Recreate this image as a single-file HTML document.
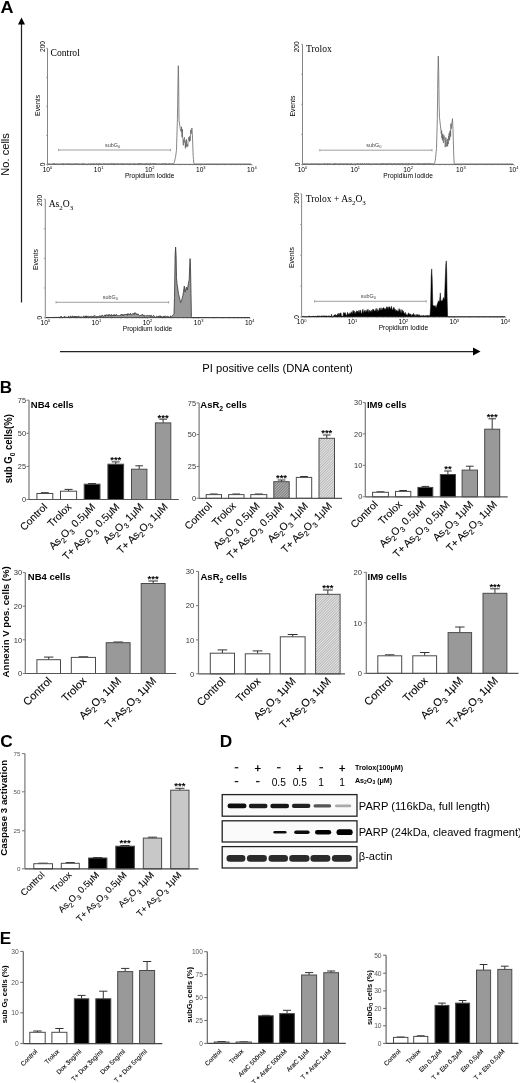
<!DOCTYPE html>
<html><head><meta charset="utf-8"><style>
html,body{margin:0;padding:0;background:#fff;}
svg{display:block;font-family:"Liberation Sans",sans-serif;}
</style></head><body>
<svg width="520" height="1083" viewBox="0 0 520 1083" font-family="Liberation Sans, sans-serif">
<rect width="520" height="1083" fill="#fff"/>
<filter id="soft" x="0" y="0" width="100%" height="100%"><feGaussianBlur stdDeviation="0.35"/></filter>
<g filter="url(#soft)">
<text transform="translate(0.6,12.9) scale(1.1,1)" font-size="16.4" font-weight="bold">A</text>
<line x1="21.5" y1="23" x2="21.5" y2="302.5" stroke="#222" stroke-width="1.2"/>
<polygon points="21.5,17.5 18,24.5 25,24.5" fill="#000"/>
<text x="9.5" y="154.4" font-size="11.1" text-anchor="middle" transform="rotate(-90 9.5 154.4)">No. cells</text>
<line x1="60" y1="351.6" x2="474" y2="351.6" stroke="#222" stroke-width="1.2"/>
<polygon points="480.5,351.6 473,347.6 473,355.6" fill="#000"/>
<text x="277.5" y="371.6" font-size="11.2" text-anchor="middle">PI positive cells (DNA content)</text>
<line x1="47.5" y1="48.3" x2="47.5" y2="164.4" stroke="#666" stroke-width="0.8"/>
<line x1="47.5" y1="164.4" x2="252" y2="164.4" stroke="#777" stroke-width="0.8"/>
<line x1="46" y1="48.3" x2="47.5" y2="48.3" stroke="#888" stroke-width="0.7"/>
<line x1="46" y1="77.33" x2="47.5" y2="77.33" stroke="#888" stroke-width="0.7"/>
<line x1="46" y1="106.35" x2="47.5" y2="106.35" stroke="#888" stroke-width="0.7"/>
<line x1="46" y1="135.38" x2="47.5" y2="135.38" stroke="#888" stroke-width="0.7"/>
<line x1="46" y1="164.4" x2="47.5" y2="164.4" stroke="#888" stroke-width="0.7"/>
<line x1="47.5" y1="164.4" x2="47.5" y2="165.9" stroke="#888" stroke-width="0.6"/>
<line x1="62.88" y1="164.4" x2="62.88" y2="165.4" stroke="#888" stroke-width="0.6"/>
<line x1="71.88" y1="164.4" x2="71.88" y2="165.4" stroke="#888" stroke-width="0.6"/>
<line x1="78.27" y1="164.4" x2="78.27" y2="165.4" stroke="#888" stroke-width="0.6"/>
<line x1="83.22" y1="164.4" x2="83.22" y2="165.4" stroke="#888" stroke-width="0.6"/>
<line x1="87.26" y1="164.4" x2="87.26" y2="165.4" stroke="#888" stroke-width="0.6"/>
<line x1="90.68" y1="164.4" x2="90.68" y2="165.4" stroke="#888" stroke-width="0.6"/>
<line x1="93.65" y1="164.4" x2="93.65" y2="165.4" stroke="#888" stroke-width="0.6"/>
<line x1="96.26" y1="164.4" x2="96.26" y2="165.4" stroke="#888" stroke-width="0.6"/>
<line x1="98.6" y1="164.4" x2="98.6" y2="165.9" stroke="#888" stroke-width="0.6"/>
<line x1="113.98" y1="164.4" x2="113.98" y2="165.4" stroke="#888" stroke-width="0.6"/>
<line x1="122.98" y1="164.4" x2="122.98" y2="165.4" stroke="#888" stroke-width="0.6"/>
<line x1="129.37" y1="164.4" x2="129.37" y2="165.4" stroke="#888" stroke-width="0.6"/>
<line x1="134.32" y1="164.4" x2="134.32" y2="165.4" stroke="#888" stroke-width="0.6"/>
<line x1="138.36" y1="164.4" x2="138.36" y2="165.4" stroke="#888" stroke-width="0.6"/>
<line x1="141.78" y1="164.4" x2="141.78" y2="165.4" stroke="#888" stroke-width="0.6"/>
<line x1="144.75" y1="164.4" x2="144.75" y2="165.4" stroke="#888" stroke-width="0.6"/>
<line x1="147.36" y1="164.4" x2="147.36" y2="165.4" stroke="#888" stroke-width="0.6"/>
<line x1="149.7" y1="164.4" x2="149.7" y2="165.9" stroke="#888" stroke-width="0.6"/>
<line x1="165.08" y1="164.4" x2="165.08" y2="165.4" stroke="#888" stroke-width="0.6"/>
<line x1="174.08" y1="164.4" x2="174.08" y2="165.4" stroke="#888" stroke-width="0.6"/>
<line x1="180.47" y1="164.4" x2="180.47" y2="165.4" stroke="#888" stroke-width="0.6"/>
<line x1="185.42" y1="164.4" x2="185.42" y2="165.4" stroke="#888" stroke-width="0.6"/>
<line x1="189.46" y1="164.4" x2="189.46" y2="165.4" stroke="#888" stroke-width="0.6"/>
<line x1="192.88" y1="164.4" x2="192.88" y2="165.4" stroke="#888" stroke-width="0.6"/>
<line x1="195.85" y1="164.4" x2="195.85" y2="165.4" stroke="#888" stroke-width="0.6"/>
<line x1="198.46" y1="164.4" x2="198.46" y2="165.4" stroke="#888" stroke-width="0.6"/>
<line x1="200.8" y1="164.4" x2="200.8" y2="165.9" stroke="#888" stroke-width="0.6"/>
<line x1="216.18" y1="164.4" x2="216.18" y2="165.4" stroke="#888" stroke-width="0.6"/>
<line x1="225.18" y1="164.4" x2="225.18" y2="165.4" stroke="#888" stroke-width="0.6"/>
<line x1="231.57" y1="164.4" x2="231.57" y2="165.4" stroke="#888" stroke-width="0.6"/>
<line x1="236.52" y1="164.4" x2="236.52" y2="165.4" stroke="#888" stroke-width="0.6"/>
<line x1="240.56" y1="164.4" x2="240.56" y2="165.4" stroke="#888" stroke-width="0.6"/>
<line x1="243.98" y1="164.4" x2="243.98" y2="165.4" stroke="#888" stroke-width="0.6"/>
<line x1="246.95" y1="164.4" x2="246.95" y2="165.4" stroke="#888" stroke-width="0.6"/>
<line x1="249.56" y1="164.4" x2="249.56" y2="165.4" stroke="#888" stroke-width="0.6"/>
<line x1="252" y1="164.4" x2="252" y2="165.9" stroke="#888" stroke-width="0.6"/>
<text transform="translate(44.7,46.5) rotate(-90)" font-size="6.6" text-anchor="middle">200</text>
<text transform="translate(44.5,164.4) rotate(-90)" font-size="6.6" text-anchor="middle">0</text>
<text transform="translate(39.9,105.4) rotate(-90)" font-size="6.9" text-anchor="middle">Events</text>
<text x="47.5" y="171.6" font-size="6.6" text-anchor="middle">10<tspan dy="-2.4" font-size="4">0</tspan></text>
<text x="98.6" y="171.6" font-size="6.6" text-anchor="middle">10<tspan dy="-2.4" font-size="4">1</tspan></text>
<text x="149.7" y="171.6" font-size="6.6" text-anchor="middle">10<tspan dy="-2.4" font-size="4">2</tspan></text>
<text x="200.8" y="171.6" font-size="6.6" text-anchor="middle">10<tspan dy="-2.4" font-size="4">3</tspan></text>
<text x="251.9" y="171.6" font-size="6.6" text-anchor="middle">10<tspan dy="-2.4" font-size="4">4</tspan></text>
<text x="149.7" y="177.7" font-size="6.6" text-anchor="middle">Propidium Iodide</text>
<line x1="58.5" y1="150" x2="170.6" y2="150" stroke="#888" stroke-width="0.8"/>
<line x1="58.5" y1="148.8" x2="58.5" y2="151.2" stroke="#888" stroke-width="0.7"/>
<line x1="170.6" y1="148.8" x2="170.6" y2="151.2" stroke="#888" stroke-width="0.7"/>
<text x="112.55" y="146.7" font-size="5.4" text-anchor="middle" fill="#444">subG<tspan dy="1.3" font-size="4">0</tspan></text>
<path d="M48,164.4 L48,164 48.3,164.04 48.6,164.18 48.9,163.78 49.2,164.24 49.5,163.87 49.8,164 50.1,164.25 50.4,163.89 50.7,164.27 51,163.95 51.3,164.24 51.6,164.22 51.9,163.95 52.2,163.63 52.5,164.19 52.8,164.11 53.1,163.79 53.4,163.53 53.7,163.83 54,163.97 54.3,163.51 54.6,164.25 54.9,163.6 55.2,164.06 55.5,164.17 55.8,164.19 56.1,164.04 56.4,163.63 56.7,164.14 57,163.82 57.3,163.77 57.6,163.99 57.9,163.85 58.2,164.23 58.5,164.24 58.8,164.12 59.1,163.74 59.4,163.94 59.7,164.03 60,163.81 60.3,163.92 60.6,164.04 60.9,163.64 61.2,163.72 61.5,164.08 61.8,163.82 62.1,163.86 62.4,163.58 62.7,163.69 63,164.05 63.3,163.49 63.6,164.18 63.9,163.94 64.2,163.67 64.5,164.15 64.8,163.88 65.1,164.24 65.4,163.74 65.7,163.66 66,163.81 66.3,163.57 66.6,164.02 66.9,163.71 67.2,163.79 67.5,163.81 67.8,163.9 68.1,163.6 68.4,163.51 68.7,163.89 69,163.74 69.3,164.22 69.6,163.7 69.9,163.75 70.2,163.47 70.5,163.61 70.8,164.04 71.1,163.95 71.4,163.73 71.7,164.24 72,163.89 72.3,164.13 72.6,164.17 72.9,164.21 73.2,163.65 73.5,164.16 73.8,164.06 74.1,163.95 74.4,163.56 74.7,164.19 75,163.9 75.3,163.82 75.6,163.55 75.9,163.6 76.2,163.56 76.5,164.03 76.8,163.92 77.1,163.97 77.4,163.55 77.7,163.49 78,164.13 78.3,164.11 78.6,164.07 78.9,164.06 79.2,163.86 79.5,163.78 79.8,164.04 80.1,164.25 80.4,163.91 80.7,163.95 81,163.79 81.3,163.48 81.6,163.69 81.9,163.83 82.2,163.75 82.5,163.7 82.8,164.2 83.1,163.52 83.4,163.62 83.7,163.54 84,163.6 84.3,163.93 84.6,163.92 84.9,164.16 85.2,163.73 85.5,164.19 85.8,164.19 86.1,164.07 86.4,164.11 86.7,163.97 87,164.2 87.3,164.24 87.6,164.12 87.9,164.16 88.2,163.95 88.5,164.22 88.8,163.54 89.1,163.74 89.4,164.12 89.7,164.03 90,163.96 90.3,163.94 90.6,164.13 90.9,163.55 91.2,163.44 91.5,163.86 91.8,163.84 92.1,164.16 92.4,164.15 92.7,163.95 93,164.02 93.3,163.56 93.6,164.1 93.9,164.21 94.2,163.47 94.5,163.8 94.8,164.11 95.1,163.79 95.4,164.2 95.7,163.8 96,163.44 96.3,163.53 96.6,163.67 96.9,164.01 97.2,163.93 97.5,164.09 97.8,163.6 98.1,163.79 98.4,163.6 98.7,163.96 99,164.04 99.3,163.57 99.6,163.43 99.9,163.54 100.2,163.57 100.5,163.56 100.8,163.62 101.1,164.03 101.4,163.8 101.7,163.93 102,164.19 102.3,164.19 102.6,163.99 102.9,164.01 103.2,163.66 103.5,163.45 103.8,163.85 104.1,163.46 104.4,163.42 104.7,163.45 105,163.92 105.3,164.03 105.6,164.03 105.9,164.05 106.2,164.04 106.5,163.71 106.8,163.49 107.1,163.53 107.4,163.82 107.7,163.68 108,163.56 108.3,164.14 108.6,163.67 108.9,163.48 109.2,163.58 109.5,163.6 109.8,163.82 110.1,164.06 110.4,163.57 110.7,163.93 111,163.56 111.3,163.42 111.6,163.88 111.9,163.88 112.2,163.44 112.5,163.62 112.8,164.06 113.1,164.09 113.4,164.07 113.7,163.47 114,163.55 114.3,164.08 114.6,163.53 114.9,163.41 115.2,163.67 115.5,163.91 115.8,163.75 116.1,164.09 116.4,164.18 116.7,163.41 117,163.67 117.3,163.77 117.6,163.44 117.9,163.84 118.2,163.49 118.5,163.53 118.8,164.02 119.1,163.99 119.4,163.95 119.7,163.99 120,163.72 120.3,163.98 120.6,163.85 120.9,164.08 121.2,163.46 121.5,163.9 121.8,163.82 122.1,163.72 122.4,163.46 122.7,163.84 123,163.45 123.3,163.78 123.6,163.75 123.9,163.76 124.2,164.16 124.5,163.83 124.8,164.03 125.1,164.17 125.4,163.54 125.7,164.04 126,163.8 126.3,163.6 126.6,163.73 126.9,163.91 127.2,163.76 127.5,163.73 127.8,163.55 128.1,164.09 128.4,163.72 128.7,163.97 129,163.95 129.3,163.55 129.6,163.76 129.9,163.72 130.2,163.56 130.5,163.44 130.8,163.81 131.1,163.68 131.4,163.76 131.7,163.76 132,163.61 132.3,163.8 132.6,163.74 132.9,163.78 133.2,163.41 133.5,163.6 133.8,163.46 134.1,163.41 134.4,163.95 134.7,163.71 135,163.41 135.3,163.49 135.6,164.05 135.9,164.06 136.2,163.81 136.5,164.1 136.8,163.97 137.1,164.1 137.4,163.62 137.7,163.53 138,163.44 138.3,164.03 138.6,163.58 138.9,163.63 139.2,164.04 139.5,163.45 139.8,163.38 140.1,163.98 140.4,163.39 140.7,163.83 141,163.76 141.3,163.36 141.6,163.48 141.9,164.02 142.2,163.8 142.5,163.74 142.8,163.88 143.1,163.99 143.4,163.89 143.7,163.57 144,164.13 144.3,163.7 144.6,163.79 144.9,164.13 145.2,163.88 145.5,163.65 145.8,163.73 146.1,164.09 146.4,163.36 146.7,163.51 147,163.36 147.3,164.06 147.6,163.93 147.9,164.11 148.2,163.52 148.5,163.92 148.8,164.04 149.1,163.8 149.4,163.41 149.7,163.48 150,163.93 150.3,164.02 150.6,163.4 150.9,163.68 151.2,163.58 151.5,164.06 151.8,164.09 152.1,163.58 152.4,163.79 152.7,164.08 153,163.38 153.3,163.62 153.6,163.49 153.9,164.06 154.2,163.45 154.5,164.08 154.8,163.44 155.1,163.77 155.4,163.86 155.7,163.69 156,163.39 156.3,163.91 156.6,164.02 156.9,163.7 157.2,163.94 157.5,164.04 157.8,164 158.1,164.08 158.4,163.96 158.7,163.87 159,163.88 159.3,163.52 159.6,163.89 159.9,163.72 160.2,163.98 160.5,163.84 160.8,164.11 161.1,163.92 161.4,164.11 161.7,163.53 162,163.68 162.3,163.97 162.6,163.74 162.9,163.37 163.2,164.03 163.5,163.46 163.8,163.77 164.1,163.72 164.4,163.45 164.7,163.8 165,163.71 165.3,163.56 165.6,163.33 165.9,163.84 166.2,163.45 166.5,163.55 166.8,163.6 167.1,163.79 167.4,163.83 167.7,164.07 168,164 168.3,164.05 168.6,163.52 168.9,163.9 169.2,163.98 169.5,164.04 169.8,163.43 170.1,163.41 170.4,163.57 170.7,163.88 171,163.91 171.3,163.87 171.6,163.74 171.9,163.98 172.2,163.75 172.5,163.89 172.8,163.33 173.1,163.8 173.4,163.8 173.5,163.8 173.7,163.45 174,162.93 174.3,162.4 174.6,161.15 174.9,159.9 175.2,158.65 175.5,157.4 175.8,155.15 176.1,152.9 176.4,150.65 176.5,149.9 176.7,143.12 177,132.96 177.3,122.79 177.4,119.4 177.6,106.07 177.9,86.07 178,79.4 178.2,70.27 178.3,65.7 178.5,72.83 178.6,76.4 178.8,98.4 179,120.4 179.1,121.04 179.4,122.96 179.7,124.88 180,126.8 180.3,128.72 180.5,130 180.6,130.25 180.9,131 181.2,131.75 181.5,126.83 181.8,132.69 182.1,137.07 182.4,129.16 182.5,135 182.7,138.37 183,139.42 183.3,145.31 183.5,140.4 183.6,141.52 183.9,139.5 184.2,138.27 184.5,137.4 184.8,142.64 185.1,140.64 185.4,148.29 185.5,142.9 185.7,145.03 186,146.07 186.3,141.31 186.5,139.4 186.6,145.4 186.9,147.13 187.2,145.25 187.5,144.4 187.8,146.29 188.1,140.73 188.4,140.09 188.5,140 188.7,137.27 189,138.81 189.3,138.53 189.5,141.4 189.6,136.45 189.9,141.13 190.2,140.69 190.5,137.4 190.8,129.78 191.1,133.8 191.4,132 191.5,131.4 191.7,129.7 191.9,128 192,129.28 192.3,133.12 192.4,134.4 192.6,139.9 192.9,148.15 193.2,156.4 193.5,159.65 193.8,162.9 194.1,163.37 194.4,163.84 194.5,164 194.7,164 195,164 195.3,164 195.6,164 195.9,164 196.2,164 196.5,164 196.8,164 197.1,164 197.4,164 197.7,164 198,164 198.3,164 198.6,164 198.9,164 199.2,164 199.5,164 199.8,164 200.1,164 200.4,164 200.7,164 201,164 201.3,164 201.6,164 201.9,164 202.2,164 202.5,164 202.8,164 203.1,164 203.4,164 203.7,164 204,164 204.3,164 204.6,164 204.9,164 205.2,164 205.5,164 205.8,164 206.1,164 206.4,164 206.7,164 207,164 207.3,164 207.6,164 207.9,164 208.2,164 208.5,164 208.8,164 209.1,164 209.4,164 209.7,164 210,164 210.3,164 210.6,164 210.9,164 211.2,164 211.5,164 211.8,164 212.1,164 212.4,164 212.7,164 213,164 213.3,164 213.6,164 213.9,164 214.2,164 214.5,164 214.8,164 215.1,164 215.4,164 215.7,164 216,164 216.3,164 216.6,164 216.9,164 217.2,164 217.5,164 217.8,164 218.1,164 218.4,164 218.7,164 219,164 219.3,164 219.6,164 219.9,164 220.2,164 220.5,164 220.8,164 221.1,164 221.4,164 221.7,164 222,164 222.3,164 222.6,164 222.9,164 223.2,164 223.5,164 223.8,164 224.1,164 224.4,164 224.7,164 225,164 225.3,164 225.6,164 225.9,164 226.2,164 226.5,164 226.8,164 227.1,164 227.4,164 227.7,164 228,164 228.3,164 228.6,164 228.9,164 229.2,164 229.5,164 229.8,164 230.1,164 230.4,164 230.7,164 231,164 231.3,164 231.6,164 231.9,164 232.2,164 232.5,164 232.8,164 233.1,164 233.4,164 233.7,164 234,164 234.3,164 234.6,164 234.9,164 235.2,164 235.5,164 235.8,164 236.1,164 236.4,164 236.7,164 237,164 237.3,164 237.6,164 237.9,164 238.2,164 238.5,164 238.8,164 239.1,164 239.4,164 239.7,164 240,164 240.3,164 240.6,164 240.9,164 241.2,164 241.5,164 241.8,164 242.1,164 242.4,164 242.7,164 243,164 243.3,164 243.6,164 243.9,164 244.2,164 244.5,164 244.8,164 245.1,164 245.4,164 245.7,164 246,164 246.3,164 246.6,164 246.9,164 247.2,164 247.5,164 247.8,164 248.1,164 248.4,164 248.7,164 249,164 249.3,164 249.6,164 249.9,164 250.2,164 250.5,164 250.8,164 251,164 L251,164.4 Z" fill="none" stroke="#666" stroke-width="0.8" stroke-linejoin="round"/>
<text x="50.5" y="55.8" font-size="9.6" font-family="Liberation Serif">Control</text>
<line x1="302.5" y1="44.2" x2="302.5" y2="164.4" stroke="#666" stroke-width="0.8"/>
<line x1="302.5" y1="164.4" x2="514" y2="164.4" stroke="#777" stroke-width="0.8"/>
<line x1="301" y1="44.2" x2="302.5" y2="44.2" stroke="#888" stroke-width="0.7"/>
<line x1="301" y1="74.25" x2="302.5" y2="74.25" stroke="#888" stroke-width="0.7"/>
<line x1="301" y1="104.3" x2="302.5" y2="104.3" stroke="#888" stroke-width="0.7"/>
<line x1="301" y1="134.35" x2="302.5" y2="134.35" stroke="#888" stroke-width="0.7"/>
<line x1="301" y1="164.4" x2="302.5" y2="164.4" stroke="#888" stroke-width="0.7"/>
<line x1="302.5" y1="164.4" x2="302.5" y2="165.9" stroke="#888" stroke-width="0.6"/>
<line x1="318.39" y1="164.4" x2="318.39" y2="165.4" stroke="#888" stroke-width="0.6"/>
<line x1="327.69" y1="164.4" x2="327.69" y2="165.4" stroke="#888" stroke-width="0.6"/>
<line x1="334.29" y1="164.4" x2="334.29" y2="165.4" stroke="#888" stroke-width="0.6"/>
<line x1="339.41" y1="164.4" x2="339.41" y2="165.4" stroke="#888" stroke-width="0.6"/>
<line x1="343.59" y1="164.4" x2="343.59" y2="165.4" stroke="#888" stroke-width="0.6"/>
<line x1="347.12" y1="164.4" x2="347.12" y2="165.4" stroke="#888" stroke-width="0.6"/>
<line x1="350.18" y1="164.4" x2="350.18" y2="165.4" stroke="#888" stroke-width="0.6"/>
<line x1="352.88" y1="164.4" x2="352.88" y2="165.4" stroke="#888" stroke-width="0.6"/>
<line x1="355.3" y1="164.4" x2="355.3" y2="165.9" stroke="#888" stroke-width="0.6"/>
<line x1="371.19" y1="164.4" x2="371.19" y2="165.4" stroke="#888" stroke-width="0.6"/>
<line x1="380.49" y1="164.4" x2="380.49" y2="165.4" stroke="#888" stroke-width="0.6"/>
<line x1="387.09" y1="164.4" x2="387.09" y2="165.4" stroke="#888" stroke-width="0.6"/>
<line x1="392.21" y1="164.4" x2="392.21" y2="165.4" stroke="#888" stroke-width="0.6"/>
<line x1="396.39" y1="164.4" x2="396.39" y2="165.4" stroke="#888" stroke-width="0.6"/>
<line x1="399.92" y1="164.4" x2="399.92" y2="165.4" stroke="#888" stroke-width="0.6"/>
<line x1="402.98" y1="164.4" x2="402.98" y2="165.4" stroke="#888" stroke-width="0.6"/>
<line x1="405.68" y1="164.4" x2="405.68" y2="165.4" stroke="#888" stroke-width="0.6"/>
<line x1="408.1" y1="164.4" x2="408.1" y2="165.9" stroke="#888" stroke-width="0.6"/>
<line x1="423.99" y1="164.4" x2="423.99" y2="165.4" stroke="#888" stroke-width="0.6"/>
<line x1="433.29" y1="164.4" x2="433.29" y2="165.4" stroke="#888" stroke-width="0.6"/>
<line x1="439.89" y1="164.4" x2="439.89" y2="165.4" stroke="#888" stroke-width="0.6"/>
<line x1="445.01" y1="164.4" x2="445.01" y2="165.4" stroke="#888" stroke-width="0.6"/>
<line x1="449.19" y1="164.4" x2="449.19" y2="165.4" stroke="#888" stroke-width="0.6"/>
<line x1="452.72" y1="164.4" x2="452.72" y2="165.4" stroke="#888" stroke-width="0.6"/>
<line x1="455.78" y1="164.4" x2="455.78" y2="165.4" stroke="#888" stroke-width="0.6"/>
<line x1="458.48" y1="164.4" x2="458.48" y2="165.4" stroke="#888" stroke-width="0.6"/>
<line x1="460.9" y1="164.4" x2="460.9" y2="165.9" stroke="#888" stroke-width="0.6"/>
<line x1="476.79" y1="164.4" x2="476.79" y2="165.4" stroke="#888" stroke-width="0.6"/>
<line x1="486.09" y1="164.4" x2="486.09" y2="165.4" stroke="#888" stroke-width="0.6"/>
<line x1="492.69" y1="164.4" x2="492.69" y2="165.4" stroke="#888" stroke-width="0.6"/>
<line x1="497.81" y1="164.4" x2="497.81" y2="165.4" stroke="#888" stroke-width="0.6"/>
<line x1="501.99" y1="164.4" x2="501.99" y2="165.4" stroke="#888" stroke-width="0.6"/>
<line x1="505.52" y1="164.4" x2="505.52" y2="165.4" stroke="#888" stroke-width="0.6"/>
<line x1="508.58" y1="164.4" x2="508.58" y2="165.4" stroke="#888" stroke-width="0.6"/>
<line x1="511.28" y1="164.4" x2="511.28" y2="165.4" stroke="#888" stroke-width="0.6"/>
<line x1="514" y1="164.4" x2="514" y2="165.9" stroke="#888" stroke-width="0.6"/>
<text transform="translate(299.4,46.8) rotate(-90)" font-size="6.6" text-anchor="middle">200</text>
<text transform="translate(299.5,164.4) rotate(-90)" font-size="6.6" text-anchor="middle">0</text>
<text transform="translate(294.9,106) rotate(-90)" font-size="6.9" text-anchor="middle">Events</text>
<text x="302.5" y="171.6" font-size="6.6" text-anchor="middle">10<tspan dy="-2.4" font-size="4">0</tspan></text>
<text x="355.3" y="171.6" font-size="6.6" text-anchor="middle">10<tspan dy="-2.4" font-size="4">1</tspan></text>
<text x="408.1" y="171.6" font-size="6.6" text-anchor="middle">10<tspan dy="-2.4" font-size="4">2</tspan></text>
<text x="460.9" y="171.6" font-size="6.6" text-anchor="middle">10<tspan dy="-2.4" font-size="4">3</tspan></text>
<text x="513.7" y="171.6" font-size="6.6" text-anchor="middle">10<tspan dy="-2.4" font-size="4">4</tspan></text>
<text x="408.1" y="177.7" font-size="6.6" text-anchor="middle">Propidium Iodide</text>
<line x1="319.8" y1="150.2" x2="432" y2="150.2" stroke="#888" stroke-width="0.8"/>
<line x1="319.8" y1="149" x2="319.8" y2="151.4" stroke="#888" stroke-width="0.7"/>
<line x1="432" y1="149" x2="432" y2="151.4" stroke="#888" stroke-width="0.7"/>
<text x="373.9" y="146.9" font-size="5.4" text-anchor="middle" fill="#444">subG<tspan dy="1.3" font-size="4">0</tspan></text>
<path d="M303,164.4 L303,164 303.3,164.18 303.6,163.72 303.9,163.78 304.2,164.26 304.5,163.63 304.8,163.58 305.1,163.79 305.4,163.71 305.7,163.65 306,164.18 306.3,163.88 306.6,163.89 306.9,163.63 307.2,163.65 307.5,163.63 307.8,163.83 308.1,163.58 308.4,163.75 308.7,163.74 309,164.11 309.3,164.27 309.6,164.18 309.9,164 310.2,164.21 310.5,163.62 310.8,163.84 311.1,163.79 311.4,163.79 311.7,163.74 312,163.89 312.3,164.28 312.6,163.65 312.9,163.69 313.2,163.88 313.5,163.86 313.8,163.76 314.1,164.23 314.4,163.69 314.7,164.08 315,164.22 315.3,164.07 315.6,163.7 315.9,164.12 316.2,163.69 316.5,163.5 316.8,163.88 317.1,163.97 317.4,163.89 317.7,163.73 318,163.66 318.3,163.78 318.6,163.76 318.9,164.21 319.2,164.16 319.5,164.07 319.8,163.68 320.1,164.03 320.4,163.82 320.7,164.26 321,164.22 321.3,164.06 321.6,163.73 321.9,163.72 322.2,163.73 322.5,164.04 322.8,163.86 323.1,163.9 323.4,163.9 323.7,164.17 324,163.55 324.3,164.11 324.6,163.48 324.9,163.52 325.2,164.25 325.5,163.9 325.8,163.61 326.1,163.49 326.4,163.9 326.7,164.05 327,164.1 327.3,163.51 327.6,164.09 327.9,163.8 328.2,164.15 328.5,163.84 328.8,163.5 329.1,164.15 329.4,163.6 329.7,163.85 330,163.55 330.3,163.7 330.6,164.07 330.9,163.54 331.2,163.87 331.5,164.24 331.8,164.25 332.1,163.86 332.4,163.89 332.7,164.01 333,164.14 333.3,163.98 333.6,164 333.9,163.58 334.2,164.25 334.5,163.65 334.8,163.58 335.1,164.16 335.4,163.51 335.7,163.68 336,163.53 336.3,164.02 336.6,163.95 336.9,163.93 337.2,163.45 337.5,163.78 337.8,163.96 338.1,163.9 338.4,164.03 338.7,164.21 339,164.16 339.3,163.58 339.6,164.02 339.9,163.5 340.2,164.04 340.5,164.03 340.8,163.83 341.1,164.09 341.4,163.94 341.7,163.48 342,163.53 342.3,163.59 342.6,163.73 342.9,163.51 343.2,163.49 343.5,163.8 343.8,163.66 344.1,164.2 344.4,163.65 344.7,163.88 345,163.63 345.3,163.72 345.6,164.01 345.9,164.2 346.2,163.49 346.5,164.13 346.8,163.86 347.1,163.96 347.4,163.99 347.7,163.64 348,163.45 348.3,164.02 348.6,163.71 348.9,163.99 349.2,163.78 349.5,163.91 349.8,164.09 350.1,164.1 350.4,164.06 350.7,163.5 351,163.83 351.3,164.05 351.6,163.5 351.9,163.43 352.2,163.87 352.5,164.11 352.8,164.07 353.1,164.15 353.4,163.95 353.7,164.15 354,164.03 354.3,164.02 354.6,163.77 354.9,163.51 355.2,163.62 355.5,163.89 355.8,163.89 356.1,163.8 356.4,163.92 356.7,163.95 357,164.17 357.3,164 357.6,163.44 357.9,164.12 358.2,163.81 358.5,163.71 358.8,163.52 359.1,164.04 359.4,164 359.7,164.01 360,163.89 360.3,163.86 360.6,163.45 360.9,163.53 361.2,163.51 361.5,164.19 361.8,164.18 362.1,163.64 362.4,163.49 362.7,163.83 363,163.74 363.3,164.21 363.6,163.89 363.9,163.47 364.2,163.55 364.5,163.52 364.8,163.43 365.1,164.01 365.4,164.12 365.7,164.08 366,163.79 366.3,163.66 366.6,163.45 366.9,163.63 367.2,163.68 367.5,163.59 367.8,163.84 368.1,163.76 368.4,164.17 368.7,163.57 369,164.01 369.3,163.46 369.6,163.68 369.9,163.96 370.2,164.1 370.5,164 370.8,163.69 371.1,163.64 371.4,164.11 371.7,164.14 372,163.78 372.3,163.73 372.6,163.88 372.9,164.01 373.2,163.71 373.5,164.18 373.8,163.95 374.1,163.82 374.4,163.42 374.7,163.68 375,163.48 375.3,163.81 375.6,164 375.9,163.99 376.2,163.42 376.5,163.62 376.8,163.94 377.1,164.17 377.4,163.79 377.7,163.65 378,163.85 378.3,163.98 378.6,163.65 378.9,163.44 379.2,164 379.5,164.16 379.8,163.91 380.1,163.85 380.4,163.64 380.7,164.02 381,163.54 381.3,163.59 381.6,163.78 381.9,164.02 382.2,163.4 382.5,163.93 382.8,163.52 383.1,163.99 383.4,164 383.7,163.57 384,163.94 384.3,163.41 384.6,163.78 384.9,164.03 385.2,164 385.5,163.84 385.8,163.64 386.1,163.41 386.4,164.06 386.7,163.86 387,164 387.3,163.39 387.6,164.06 387.9,164.13 388.2,164.12 388.5,163.86 388.8,163.45 389.1,163.46 389.4,163.58 389.7,163.37 390,163.42 390.3,163.9 390.6,164.02 390.9,163.42 391.2,163.57 391.5,164.14 391.8,163.63 392.1,163.86 392.4,163.86 392.7,163.9 393,164.03 393.3,164.16 393.6,163.94 393.9,163.88 394.2,163.4 394.5,164.06 394.8,163.39 395.1,163.99 395.4,163.87 395.7,163.5 396,163.5 396.3,163.81 396.6,164.12 396.9,163.78 397.2,163.86 397.5,163.42 397.8,164 398.1,163.86 398.4,163.44 398.7,164.13 399,163.83 399.3,163.5 399.6,163.54 399.9,164.12 400.2,164.12 400.5,164.1 400.8,163.41 401.1,163.94 401.4,163.55 401.7,163.43 402,163.88 402.3,163.93 402.6,163.38 402.9,163.65 403.2,163.94 403.5,163.57 403.8,163.89 404.1,163.93 404.4,164.14 404.7,163.54 405,163.41 405.3,163.64 405.6,163.39 405.9,164.12 406.2,163.96 406.5,163.76 406.8,163.38 407.1,163.38 407.4,163.83 407.7,163.94 408,163.8 408.3,163.74 408.6,163.4 408.9,163.99 409.2,163.5 409.5,163.55 409.8,163.48 410.1,163.52 410.4,163.65 410.7,163.87 411,163.88 411.3,163.85 411.6,163.51 411.9,164.07 412.2,163.98 412.5,163.53 412.8,163.93 413.1,164.08 413.4,164.1 413.7,163.69 414,163.87 414.3,163.35 414.6,163.42 414.9,163.34 415.2,163.92 415.5,164.06 415.8,164.05 416.1,163.73 416.4,163.56 416.7,163.77 417,163.94 417.3,163.79 417.6,163.63 417.9,163.59 418.2,163.53 418.5,163.45 418.8,163.59 419.1,164.03 419.4,163.45 419.7,163.89 420,163.67 420.3,163.82 420.6,163.53 420.9,163.96 421.2,163.92 421.5,163.92 421.8,164 422.1,163.41 422.4,163.66 422.7,163.86 423,163.8 423.3,163.32 423.6,163.71 423.9,163.93 424.2,163.47 424.5,163.59 424.8,163.32 425.1,164.03 425.4,163.73 425.7,163.46 426,163.44 426.3,163.38 426.6,164.08 426.9,163.88 427.2,164.02 427.5,163.96 427.8,163.33 428.1,163.64 428.4,163.36 428.7,163.81 429,163.42 429.3,163.75 429.6,163.9 429.9,163.48 430.2,163.35 430.5,164.02 430.8,163.63 431.1,163.61 431.4,163.93 431.7,163.81 432,163.99 432.3,163.94 432.6,163.9 432.9,163.62 433.2,163.58 433.5,163.94 433.8,164.09 434.1,163.8 434.3,163.8 434.4,163.46 434.7,162.44 435,161.42 435.3,160.4 435.6,157.4 435.9,154.4 436.2,151.4 436.5,148.4 436.8,137.52 437.1,126.65 437.3,119.4 437.4,111.9 437.7,89.4 437.9,74.4 438,69.82 438.3,56.1 438.6,68.33 438.7,72.4 438.9,88.4 439.1,104.4 439.2,107.7 439.5,117.6 439.8,120.2 440.1,122.8 440.4,125.4 440.7,128 441,130.6 441.3,133.99 441.6,130.56 441.9,138.11 442,134.4 442.2,137.64 442.5,140.26 442.8,133.76 443,138.4 443.1,137.48 443.4,142.88 443.7,141.48 444,135.4 444.3,138.86 444.6,138.95 444.9,139.89 445,142.4 445.2,147.12 445.5,145.27 445.8,137.46 446,139.4 446.1,141.22 446.4,144.82 446.7,146.45 447,145.9 447.3,138.96 447.6,146.24 447.9,141.89 448,142.4 448.2,143.86 448.5,142.49 448.8,136.06 449,140.4 449.1,133.29 449.4,139.56 449.7,139.76 450,130.9 450.3,135.76 450.5,130.6 450.6,136.6 450.9,123.7 451.2,128.65 451.5,126.4 451.8,124.09 452.1,121.78 452.4,119.47 452.5,118.7 452.7,122.98 453,129.4 453.3,140.11 453.6,150.83 453.7,154.4 453.9,158 454.2,163.4 454.5,163.62 454.8,163.85 455,164 455.1,164 455.4,164 455.7,164 456,164 456.3,164 456.6,164 456.9,164 457.2,164 457.5,164 457.8,164 458.1,164 458.4,164 458.7,164 459,164 459.3,164 459.6,164 459.9,164 460.2,164 460.5,164 460.8,164 461.1,164 461.4,164 461.7,164 462,164 462.3,164 462.6,164 462.9,164 463.2,164 463.5,164 463.8,164 464.1,164 464.4,164 464.7,164 465,164 465.3,164 465.6,164 465.9,164 466.2,164 466.5,164 466.8,164 467.1,164 467.4,164 467.7,164 468,164 468.3,164 468.6,164 468.9,164 469.2,164 469.5,164 469.8,164 470.1,164 470.4,164 470.7,164 471,164 471.3,164 471.6,164 471.9,164 472.2,164 472.5,164 472.8,164 473.1,164 473.4,164 473.7,164 474,164 474.3,164 474.6,164 474.9,164 475.2,164 475.5,164 475.8,164 476.1,164 476.4,164 476.7,164 477,164 477.3,164 477.6,164 477.9,164 478.2,164 478.5,164 478.8,164 479.1,164 479.4,164 479.7,164 480,164 480.3,164 480.6,164 480.9,164 481.2,164 481.5,164 481.8,164 482.1,164 482.4,164 482.7,164 483,164 483.3,164 483.6,164 483.9,164 484.2,164 484.5,164 484.8,164 485.1,164 485.4,164 485.7,164 486,164 486.3,164 486.6,164 486.9,164 487.2,164 487.5,164 487.8,164 488.1,164 488.4,164 488.7,164 489,164 489.3,164 489.6,164 489.9,164 490.2,164 490.5,164 490.8,164 491.1,164 491.4,164 491.7,164 492,164 492.3,164 492.6,164 492.9,164 493.2,164 493.5,164 493.8,164 494.1,164 494.4,164 494.7,164 495,164 495.3,164 495.6,164 495.9,164 496.2,164 496.5,164 496.8,164 497.1,164 497.4,164 497.7,164 498,164 498.3,164 498.6,164 498.9,164 499.2,164 499.5,164 499.8,164 500.1,164 500.4,164 500.7,164 501,164 501.3,164 501.6,164 501.9,164 502.2,164 502.5,164 502.8,164 503.1,164 503.4,164 503.7,164 504,164 504.3,164 504.6,164 504.9,164 505.2,164 505.5,164 505.8,164 506.1,164 506.4,164 506.7,164 507,164 507.3,164 507.6,164 507.9,164 508.2,164 508.5,164 508.8,164 509.1,164 509.4,164 509.7,164 510,164 510.3,164 510.6,164 510.9,164 511.2,164 511.5,164 511.8,164 512.1,164 512.4,164 512.7,164 513,164 L513,164.4 Z" fill="none" stroke="#666" stroke-width="0.8" stroke-linejoin="round"/>
<text x="306" y="51.7" font-size="9.6" font-family="Liberation Serif">Trolox</text>
<line x1="45.3" y1="199.2" x2="45.3" y2="317.6" stroke="#666" stroke-width="0.8"/>
<line x1="45.3" y1="317.6" x2="250" y2="317.6" stroke="#777" stroke-width="0.8"/>
<line x1="43.8" y1="199.2" x2="45.3" y2="199.2" stroke="#888" stroke-width="0.7"/>
<line x1="43.8" y1="228.8" x2="45.3" y2="228.8" stroke="#888" stroke-width="0.7"/>
<line x1="43.8" y1="258.4" x2="45.3" y2="258.4" stroke="#888" stroke-width="0.7"/>
<line x1="43.8" y1="288" x2="45.3" y2="288" stroke="#888" stroke-width="0.7"/>
<line x1="43.8" y1="317.6" x2="45.3" y2="317.6" stroke="#888" stroke-width="0.7"/>
<line x1="45.3" y1="317.6" x2="45.3" y2="319.1" stroke="#888" stroke-width="0.6"/>
<line x1="60.68" y1="317.6" x2="60.68" y2="318.6" stroke="#888" stroke-width="0.6"/>
<line x1="69.68" y1="317.6" x2="69.68" y2="318.6" stroke="#888" stroke-width="0.6"/>
<line x1="76.07" y1="317.6" x2="76.07" y2="318.6" stroke="#888" stroke-width="0.6"/>
<line x1="81.02" y1="317.6" x2="81.02" y2="318.6" stroke="#888" stroke-width="0.6"/>
<line x1="85.06" y1="317.6" x2="85.06" y2="318.6" stroke="#888" stroke-width="0.6"/>
<line x1="88.48" y1="317.6" x2="88.48" y2="318.6" stroke="#888" stroke-width="0.6"/>
<line x1="91.45" y1="317.6" x2="91.45" y2="318.6" stroke="#888" stroke-width="0.6"/>
<line x1="94.06" y1="317.6" x2="94.06" y2="318.6" stroke="#888" stroke-width="0.6"/>
<line x1="96.4" y1="317.6" x2="96.4" y2="319.1" stroke="#888" stroke-width="0.6"/>
<line x1="111.78" y1="317.6" x2="111.78" y2="318.6" stroke="#888" stroke-width="0.6"/>
<line x1="120.78" y1="317.6" x2="120.78" y2="318.6" stroke="#888" stroke-width="0.6"/>
<line x1="127.17" y1="317.6" x2="127.17" y2="318.6" stroke="#888" stroke-width="0.6"/>
<line x1="132.12" y1="317.6" x2="132.12" y2="318.6" stroke="#888" stroke-width="0.6"/>
<line x1="136.16" y1="317.6" x2="136.16" y2="318.6" stroke="#888" stroke-width="0.6"/>
<line x1="139.58" y1="317.6" x2="139.58" y2="318.6" stroke="#888" stroke-width="0.6"/>
<line x1="142.55" y1="317.6" x2="142.55" y2="318.6" stroke="#888" stroke-width="0.6"/>
<line x1="145.16" y1="317.6" x2="145.16" y2="318.6" stroke="#888" stroke-width="0.6"/>
<line x1="147.5" y1="317.6" x2="147.5" y2="319.1" stroke="#888" stroke-width="0.6"/>
<line x1="162.88" y1="317.6" x2="162.88" y2="318.6" stroke="#888" stroke-width="0.6"/>
<line x1="171.88" y1="317.6" x2="171.88" y2="318.6" stroke="#888" stroke-width="0.6"/>
<line x1="178.27" y1="317.6" x2="178.27" y2="318.6" stroke="#888" stroke-width="0.6"/>
<line x1="183.22" y1="317.6" x2="183.22" y2="318.6" stroke="#888" stroke-width="0.6"/>
<line x1="187.26" y1="317.6" x2="187.26" y2="318.6" stroke="#888" stroke-width="0.6"/>
<line x1="190.68" y1="317.6" x2="190.68" y2="318.6" stroke="#888" stroke-width="0.6"/>
<line x1="193.65" y1="317.6" x2="193.65" y2="318.6" stroke="#888" stroke-width="0.6"/>
<line x1="196.26" y1="317.6" x2="196.26" y2="318.6" stroke="#888" stroke-width="0.6"/>
<line x1="198.6" y1="317.6" x2="198.6" y2="319.1" stroke="#888" stroke-width="0.6"/>
<line x1="213.98" y1="317.6" x2="213.98" y2="318.6" stroke="#888" stroke-width="0.6"/>
<line x1="222.98" y1="317.6" x2="222.98" y2="318.6" stroke="#888" stroke-width="0.6"/>
<line x1="229.37" y1="317.6" x2="229.37" y2="318.6" stroke="#888" stroke-width="0.6"/>
<line x1="234.32" y1="317.6" x2="234.32" y2="318.6" stroke="#888" stroke-width="0.6"/>
<line x1="238.36" y1="317.6" x2="238.36" y2="318.6" stroke="#888" stroke-width="0.6"/>
<line x1="241.78" y1="317.6" x2="241.78" y2="318.6" stroke="#888" stroke-width="0.6"/>
<line x1="244.75" y1="317.6" x2="244.75" y2="318.6" stroke="#888" stroke-width="0.6"/>
<line x1="247.36" y1="317.6" x2="247.36" y2="318.6" stroke="#888" stroke-width="0.6"/>
<line x1="250" y1="317.6" x2="250" y2="319.1" stroke="#888" stroke-width="0.6"/>
<text transform="translate(42.4,200.4) rotate(-90)" font-size="6.6" text-anchor="middle">200</text>
<text transform="translate(42.3,317.6) rotate(-90)" font-size="6.6" text-anchor="middle">0</text>
<text transform="translate(37.7,259.5) rotate(-90)" font-size="6.9" text-anchor="middle">Events</text>
<text x="45.3" y="324.8" font-size="6.6" text-anchor="middle">10<tspan dy="-2.4" font-size="4">0</tspan></text>
<text x="96.4" y="324.8" font-size="6.6" text-anchor="middle">10<tspan dy="-2.4" font-size="4">1</tspan></text>
<text x="147.5" y="324.8" font-size="6.6" text-anchor="middle">10<tspan dy="-2.4" font-size="4">2</tspan></text>
<text x="198.6" y="324.8" font-size="6.6" text-anchor="middle">10<tspan dy="-2.4" font-size="4">3</tspan></text>
<text x="249.7" y="324.8" font-size="6.6" text-anchor="middle">10<tspan dy="-2.4" font-size="4">4</tspan></text>
<text x="147.5" y="330.9" font-size="6.6" text-anchor="middle">Propidium Iodide</text>
<line x1="56" y1="302.3" x2="168.6" y2="302.3" stroke="#888" stroke-width="0.8"/>
<line x1="56" y1="301.1" x2="56" y2="303.5" stroke="#888" stroke-width="0.7"/>
<line x1="168.6" y1="301.1" x2="168.6" y2="303.5" stroke="#888" stroke-width="0.7"/>
<text x="110.3" y="299" font-size="5.4" text-anchor="middle" fill="#444">subG<tspan dy="1.3" font-size="4">0</tspan></text>
<path d="M46,317.6 L46,317.6 46.5,317.59 47,317.58 47.5,317.57 48,317.56 48.5,317.55 49,317.54 49.5,317.53 50,317.51 50.5,317.5 51,317.49 51.5,317.48 52,317.47 52.5,317.46 53,317.45 53.5,317.44 54,317.43 54.5,317.42 55,317.41 55.5,317.4 56,317.39 56.5,317.38 57,317.36 57.5,317.35 58,317.34 58.5,317.33 59,317.32 59.5,317.31 60,317.3 60.5,316.55 61,317.36 61.5,316.4 62,317.23 62.5,317.6 63,317.6 63.5,317.02 64,316.83 64.5,316.28 65,317.6 65.5,316.83 66,317.32 66.5,317.04 67,317.6 67.5,317.46 68,316.98 68.5,316.16 69,317.6 69.5,317 70,316.36 70.5,316.03 71,317.56 71.5,317.6 72,316.04 72.5,315.96 73,316.94 73.5,317.6 74,316.03 74.5,317.09 75,316.05 75.5,316.61 76,316.19 76.5,317.5 77,316.24 77.5,317.36 78,316.98 78.5,316.09 79,316.11 79.5,317.39 80,317.31 80.5,316.93 81,316.69 81.5,316.94 82,316.8 82.5,317.43 83,317.16 83.5,316.18 84,315.82 84.5,317.51 85,316.44 85.5,316.03 86,317.45 86.5,315.82 87,317.24 87.5,316.26 88,316.33 88.5,316.16 89,316.78 89.5,316.53 90,316.18 90.5,316.47 91,315.98 91.5,316.38 92,316.38 92.5,317.19 93,315.97 93.5,316.21 94,316.7 94.5,315.62 95,315.56 95.5,316.18 96,316.72 96.5,316.11 97,316.82 97.5,316.75 98,316.13 98.5,316.78 99,316.06 99.5,315.9 100,316 100.5,316.8 101,315.59 101.5,316.68 102,315.35 102.5,315.24 103,315.76 103.5,316.65 104,315.73 104.5,315.96 105,314.8 105.5,316.41 106,314.95 106.5,314.65 107,315.16 107.5,314.97 108,316.19 108.5,314.6 109,315.56 109.5,314.61 110,314.67 110.5,316.15 111,314.88 111.5,314.58 112,316.29 112.5,315.7 113,314.87 113.5,316.04 114,314.55 114.5,315.77 115,314.67 115.5,315.99 116,315.26 116.5,314.4 117,315.8 117.5,315.67 118,315.17 118.5,315.52 119,316.07 119.5,315.76 120,315.2 120.5,315.74 121,314.16 121.5,314.64 122,314.18 122.5,315.6 123,314.33 123.5,315.64 124,314.77 124.5,314.53 125,315.05 125.5,313.99 126,314.59 126.5,314.51 127,313.87 127.5,315.39 128,313.58 128.5,314.27 129,314.71 129.5,313.87 130,314.9 130.5,313.42 131,314.21 131.5,314.61 132,314.4 132.5,313.59 133,314.04 133.5,314.39 134,313.07 134.5,314.27 135,312.55 135.5,313.1 136,314.06 136.5,313.85 137,314.8 137.5,313.77 138,314.61 138.5,314.49 139,315.23 139.5,315.89 140,315.86 140.5,315.67 141,314.78 141.5,315.18 142,315.06 142.5,314.33 143,315.9 143.5,315.75 144,314.93 144.5,316.23 145,316.31 145.5,315.64 146,316.18 146.5,315.72 147,316.02 147.5,315.34 148,315.37 148.5,316.18 149,315.38 149.5,315.71 150,315.8 150.5,316.5 151,314.96 151.5,316.41 152,316.67 152.5,316.84 153,315.82 153.5,315.42 154,315.67 154.5,316.5 155,316.84 155.5,317.41 156,316.6 156.5,316.22 157,316.39 157.5,316.82 158,316.23 158.5,316.64 159,315.66 159.5,316.08 160,317.05 160.5,315.75 161,317.48 161.5,316.51 162,316.77 162.5,317.11 163,317.47 163.5,316.04 164,317.58 164.5,316.51 165,315.73 165.5,317.34 166,317.23 166.5,316.42 167,316.63 167.5,316.37 168,316.03 168.5,317.31 169,317.05 169.5,317.07 170,317.58 170.5,315.91 171,316.13 171.5,316.8 172,316.2 172.5,315.6 173,314.93 173.5,314.27 174,313.6 174.5,297.6 175,262.6 175.1,255.6 175.5,248.8 175.6,247.1 176,253.9 176.1,255.6 176.5,277.6 177,283.6 177.5,286.93 178,290.27 178.5,293.6 179,295.74 179.5,297.89 180,300.03 180.5,302.17 180.6,302.6 181,301.71 181.5,300.6 182,298.77 182.5,296.93 183,295.1 183.5,291.64 184,288.18 184.3,286.1 184.5,287.81 185,292.1 185.5,290.43 186,288.77 186.5,287.1 187,288.98 187.3,290.1 187.5,288.93 188,286.02 188.5,283.1 189,280.6 189.2,279.6 189.5,271.2 189.7,265.6 190,260.35 190.1,258.6 190.5,267.6 190.9,287.6 191,293.4 191.4,316.6 191.5,316.77 192,317.6 192.5,317.6 193,317.6 193.5,317.6 194,317.6 194.5,317.6 195,317.6 195.5,317.6 196,317.6 196.5,317.6 197,317.6 197.5,317.6 198,317.6 198.5,317.6 199,317.6 199.5,317.6 200,317.6 200.5,317.6 201,317.6 201.5,317.6 202,317.6 202.5,317.6 203,317.6 203.5,317.6 204,317.6 204.5,317.6 205,317.6 205.5,317.6 206,317.6 206.5,317.6 207,317.6 207.5,317.6 208,317.6 208.5,317.6 209,317.6 209.5,317.6 210,317.6 210.5,317.6 211,317.6 211.5,317.6 212,317.6 212.5,317.6 213,317.6 213.5,317.6 214,317.6 214.5,317.6 215,317.6 215.5,317.6 216,317.6 216.5,317.6 217,317.6 217.5,317.6 218,317.6 218.5,317.6 219,317.6 219.5,317.6 220,317.6 220.5,317.6 221,317.6 221.5,317.6 222,317.6 222.5,317.6 223,317.6 223.5,317.6 224,317.6 224.5,317.6 225,317.6 225.5,317.6 226,317.6 226.5,317.6 227,317.6 227.5,317.6 228,317.6 228.5,317.6 229,317.6 229.5,317.6 230,317.6 230.5,317.6 231,317.6 231.5,317.6 232,317.6 232.5,317.6 233,317.6 233.5,317.6 234,317.6 234.5,317.6 235,317.6 235.5,317.6 236,317.6 236.5,317.6 237,317.6 237.5,317.6 238,317.6 238.5,317.6 239,317.6 239.5,317.6 240,317.6 240.5,317.6 241,317.6 241.5,317.6 242,317.6 242.5,317.6 243,317.6 243.5,317.6 244,317.6 244.5,317.6 245,317.6 245.5,317.6 246,317.6 246.5,317.6 247,317.6 247.5,317.6 248,317.6 248.5,317.6 249,317.6 249.5,317.6 250,317.6 L250,317.6 Z" fill="#999" stroke="#333" stroke-width="0.8" stroke-linejoin="round"/>
<text x="48.7" y="206.7" font-size="9.6" font-family="Liberation Serif">As<tspan baseline-shift="-2.69" font-size="6.91">2</tspan>O<tspan baseline-shift="-2.69" font-size="6.91">3</tspan></text>
<line x1="301.6" y1="193.8" x2="301.6" y2="316.8" stroke="#666" stroke-width="0.8"/>
<line x1="301.6" y1="316.8" x2="505.6" y2="316.8" stroke="#777" stroke-width="0.8"/>
<line x1="300.1" y1="193.8" x2="301.6" y2="193.8" stroke="#888" stroke-width="0.7"/>
<line x1="300.1" y1="224.55" x2="301.6" y2="224.55" stroke="#888" stroke-width="0.7"/>
<line x1="300.1" y1="255.3" x2="301.6" y2="255.3" stroke="#888" stroke-width="0.7"/>
<line x1="300.1" y1="286.05" x2="301.6" y2="286.05" stroke="#888" stroke-width="0.7"/>
<line x1="300.1" y1="316.8" x2="301.6" y2="316.8" stroke="#888" stroke-width="0.7"/>
<line x1="301.6" y1="316.8" x2="301.6" y2="318.3" stroke="#888" stroke-width="0.6"/>
<line x1="316.92" y1="316.8" x2="316.92" y2="317.8" stroke="#888" stroke-width="0.6"/>
<line x1="325.89" y1="316.8" x2="325.89" y2="317.8" stroke="#888" stroke-width="0.6"/>
<line x1="332.24" y1="316.8" x2="332.24" y2="317.8" stroke="#888" stroke-width="0.6"/>
<line x1="337.18" y1="316.8" x2="337.18" y2="317.8" stroke="#888" stroke-width="0.6"/>
<line x1="341.21" y1="316.8" x2="341.21" y2="317.8" stroke="#888" stroke-width="0.6"/>
<line x1="344.62" y1="316.8" x2="344.62" y2="317.8" stroke="#888" stroke-width="0.6"/>
<line x1="347.57" y1="316.8" x2="347.57" y2="317.8" stroke="#888" stroke-width="0.6"/>
<line x1="350.17" y1="316.8" x2="350.17" y2="317.8" stroke="#888" stroke-width="0.6"/>
<line x1="352.5" y1="316.8" x2="352.5" y2="318.3" stroke="#888" stroke-width="0.6"/>
<line x1="367.82" y1="316.8" x2="367.82" y2="317.8" stroke="#888" stroke-width="0.6"/>
<line x1="376.79" y1="316.8" x2="376.79" y2="317.8" stroke="#888" stroke-width="0.6"/>
<line x1="383.14" y1="316.8" x2="383.14" y2="317.8" stroke="#888" stroke-width="0.6"/>
<line x1="388.08" y1="316.8" x2="388.08" y2="317.8" stroke="#888" stroke-width="0.6"/>
<line x1="392.11" y1="316.8" x2="392.11" y2="317.8" stroke="#888" stroke-width="0.6"/>
<line x1="395.52" y1="316.8" x2="395.52" y2="317.8" stroke="#888" stroke-width="0.6"/>
<line x1="398.47" y1="316.8" x2="398.47" y2="317.8" stroke="#888" stroke-width="0.6"/>
<line x1="401.07" y1="316.8" x2="401.07" y2="317.8" stroke="#888" stroke-width="0.6"/>
<line x1="403.4" y1="316.8" x2="403.4" y2="318.3" stroke="#888" stroke-width="0.6"/>
<line x1="418.72" y1="316.8" x2="418.72" y2="317.8" stroke="#888" stroke-width="0.6"/>
<line x1="427.69" y1="316.8" x2="427.69" y2="317.8" stroke="#888" stroke-width="0.6"/>
<line x1="434.04" y1="316.8" x2="434.04" y2="317.8" stroke="#888" stroke-width="0.6"/>
<line x1="438.98" y1="316.8" x2="438.98" y2="317.8" stroke="#888" stroke-width="0.6"/>
<line x1="443.01" y1="316.8" x2="443.01" y2="317.8" stroke="#888" stroke-width="0.6"/>
<line x1="446.42" y1="316.8" x2="446.42" y2="317.8" stroke="#888" stroke-width="0.6"/>
<line x1="449.37" y1="316.8" x2="449.37" y2="317.8" stroke="#888" stroke-width="0.6"/>
<line x1="451.97" y1="316.8" x2="451.97" y2="317.8" stroke="#888" stroke-width="0.6"/>
<line x1="454.3" y1="316.8" x2="454.3" y2="318.3" stroke="#888" stroke-width="0.6"/>
<line x1="469.62" y1="316.8" x2="469.62" y2="317.8" stroke="#888" stroke-width="0.6"/>
<line x1="478.59" y1="316.8" x2="478.59" y2="317.8" stroke="#888" stroke-width="0.6"/>
<line x1="484.94" y1="316.8" x2="484.94" y2="317.8" stroke="#888" stroke-width="0.6"/>
<line x1="489.88" y1="316.8" x2="489.88" y2="317.8" stroke="#888" stroke-width="0.6"/>
<line x1="493.91" y1="316.8" x2="493.91" y2="317.8" stroke="#888" stroke-width="0.6"/>
<line x1="497.32" y1="316.8" x2="497.32" y2="317.8" stroke="#888" stroke-width="0.6"/>
<line x1="500.27" y1="316.8" x2="500.27" y2="317.8" stroke="#888" stroke-width="0.6"/>
<line x1="502.87" y1="316.8" x2="502.87" y2="317.8" stroke="#888" stroke-width="0.6"/>
<line x1="505.6" y1="316.8" x2="505.6" y2="318.3" stroke="#888" stroke-width="0.6"/>
<text transform="translate(299.3,198.2) rotate(-90)" font-size="6.6" text-anchor="middle">200</text>
<text transform="translate(298.6,316.8) rotate(-90)" font-size="6.6" text-anchor="middle">0</text>
<text transform="translate(294,257.5) rotate(-90)" font-size="6.9" text-anchor="middle">Events</text>
<text x="301.6" y="324" font-size="6.6" text-anchor="middle">10<tspan dy="-2.4" font-size="4">0</tspan></text>
<text x="352.5" y="324" font-size="6.6" text-anchor="middle">10<tspan dy="-2.4" font-size="4">1</tspan></text>
<text x="403.4" y="324" font-size="6.6" text-anchor="middle">10<tspan dy="-2.4" font-size="4">2</tspan></text>
<text x="454.3" y="324" font-size="6.6" text-anchor="middle">10<tspan dy="-2.4" font-size="4">3</tspan></text>
<text x="505.2" y="324" font-size="6.6" text-anchor="middle">10<tspan dy="-2.4" font-size="4">4</tspan></text>
<text x="403.4" y="330.1" font-size="6.6" text-anchor="middle">Propidium Iodide</text>
<line x1="314.6" y1="301.3" x2="426.2" y2="301.3" stroke="#888" stroke-width="0.8"/>
<line x1="314.6" y1="300.1" x2="314.6" y2="302.5" stroke="#888" stroke-width="0.7"/>
<line x1="426.2" y1="300.1" x2="426.2" y2="302.5" stroke="#888" stroke-width="0.7"/>
<text x="368.4" y="298" font-size="5.4" text-anchor="middle" fill="#444">subG<tspan dy="1.3" font-size="4">0</tspan></text>
<path d="M302,316.8 L302,316.8 302.5,316.54 303,316.8 303.5,316.39 304,316.47 304.5,316.7 305,316.44 305.5,316.69 306,316.8 306.5,316.8 307,316.8 307.5,316.8 308,316.71 308.5,316.33 309,316.36 309.5,316.21 310,316.31 310.5,316.7 311,316.42 311.5,316.52 312,316.18 312.5,316.41 313,316.62 313.5,316.27 314,315.96 314.5,316.62 315,316.4 315.5,315.99 316,316.76 316.5,316.53 317,316.53 317.5,316.06 318,315.87 318.5,316.04 319,316.4 319.5,315.89 320,316.37 320.5,316.44 321,315.82 321.5,316.06 322,315.99 322.5,316 323,315.71 323.5,316.15 324,315.8 324.5,315.92 325,315.76 325.5,316.13 326,315.85 326.5,315.98 327,316.2 327.5,316.28 328,315.89 328.5,316.37 329,315.61 329.5,316.28 330,316 330.5,316.8 331,316.8 331.5,314.15 332,316.77 332.5,316.8 333,316.8 333.5,316.8 334,314.93 334.5,315.14 335,314.79 335.5,314.55 336,316.8 336.5,315.1 337,316.09 337.5,313.94 338,313.87 338.5,313.48 339,316.8 339.5,313.47 340,314.8 340.5,313.08 341,312.84 341.5,316.58 342,316.01 342.5,316.33 343,316.58 343.5,312.73 344,312.78 344.5,313.49 345,312.5 345.5,313.28 346,314.76 346.5,315.51 347,315.41 347.5,312.27 348,314.7 348.5,314.06 349,313.47 349.5,315.21 350,312.6 350.5,313.95 351,313.77 351.5,311.71 352,313.25 352.5,313.4 353,310.38 353.5,312.43 354,310.76 354.5,311.77 355,314.41 355.5,312.59 356,312.41 356.5,310.8 357,312.69 357.5,310.98 358,311.69 358.5,313.1 359,310.06 359.5,313.55 360,311.3 360.5,310.1 361,313.07 361.5,313.82 362,312.87 362.5,310.27 363,309.25 363.5,313.7 364,311.44 364.5,311.41 365,309.98 365.5,312.78 366,311.32 366.5,311.98 367,309.72 367.5,312.33 368,309.16 368.5,312.17 369,312.46 369.5,310.21 370,310.8 370.5,311.05 371,312.77 371.5,310.28 372,312.78 372.5,309.46 373,309.82 373.5,309.34 374,310.01 374.5,311.2 375,310.93 375.5,310.9 376,308.55 376.5,312.19 377,308.44 377.5,312.35 378,309.8 378.5,311.34 379,310.98 379.5,307.93 380,309.67 380.5,310.12 381,307.69 381.5,310.58 382,309.42 382.5,308.99 383,307.86 383.5,307.76 384,308.14 384.5,309.4 385,308.3 385.5,309.3 386,309.99 386.5,306.72 387,307.45 387.5,306.99 388,309.52 388.5,308.18 389,306.54 389.5,307.34 390,307.3 390.5,309.47 391,308.07 391.5,306.28 392,309.41 392.5,309.77 393,309.41 393.5,307.72 394,307.22 394.5,310.54 395,308.8 395.5,310.88 396,310.66 396.5,310.5 397,309.8 397.5,311.66 398,311.09 398.5,311.93 399,308.51 399.5,309.85 400,310.8 400.5,313.13 401,309.37 401.5,313.53 402,312.43 402.5,309.87 403,310.94 403.5,311.43 404,313 404.5,314.3 405,312.8 405.5,312.62 406,315.21 406.5,314.9 407,314.21 407.5,315.99 408,314.46 408.5,312.81 409,313.41 409.5,314.45 410,314.3 410.5,314.08 411,314.96 411.5,316.53 412,314.5 412.5,315.51 413,314.05 413.5,313.38 414,315.67 414.5,315.1 415,314.39 415.5,315.99 416,316.8 416.5,314.8 417,314.16 417.5,314.75 418,315.8 418.5,315.18 419,314.48 419.5,315.27 420,315.45 420.5,315.8 421,315.96 421.5,315.61 422,316.19 422.5,315.84 423,315.44 423.5,315.52 424,315.61 424.5,316.02 425,315.83 425.5,315.8 426,315.62 426.5,315.85 427,315.56 427.5,315.28 428,316.1 428.5,315.58 429,315.44 429.5,315.87 430,315.8 430.5,308.3 430.6,306.8 431,286.8 431.2,276.8 431.5,272.06 431.7,268.9 432,274.84 432.2,278.8 432.5,291.8 432.8,304.8 433,305.05 433.5,305.68 434,306.3 434.5,305.99 435,305.68 435.3,305.5 435.5,306.3 436,308.3 436.5,306.7 437,305.1 437.5,303.5 438,302.15 438.5,300.8 439,301.3 439.5,301.8 440,296.24 440.3,292.9 440.5,296.06 440.8,300.8 441,300.8 441.5,300.8 442,300.8 442.5,300.8 443,299.15 443.5,297.5 444,298.65 444.5,299.8 445,286.23 445.2,280.8 445.5,272.8 445.8,264.8 446,263.24 446.3,260.9 446.5,266.35 446.7,271.8 447,290.55 447.1,296.8 447.5,312 447.6,315.8 448,316.47 448.2,316.8 448.5,316.8 449,316.8 449.5,316.8 450,316.8 450.5,316.8 451,316.8 451.5,316.8 452,316.8 452.5,316.8 453,316.8 453.5,316.8 454,316.8 454.5,316.8 455,316.8 455.5,316.8 456,316.8 456.5,316.8 457,316.8 457.5,316.8 458,316.8 458.5,316.8 459,316.8 459.5,316.8 460,316.8 460.5,316.8 461,316.8 461.5,316.8 462,316.8 462.5,316.8 463,316.8 463.5,316.8 464,316.8 464.5,316.8 465,316.8 465.5,316.8 466,316.8 466.5,316.8 467,316.8 467.5,316.8 468,316.8 468.5,316.8 469,316.8 469.5,316.8 470,316.8 470.5,316.8 471,316.8 471.5,316.8 472,316.8 472.5,316.8 473,316.8 473.5,316.8 474,316.8 474.5,316.8 475,316.8 475.5,316.8 476,316.8 476.5,316.8 477,316.8 477.5,316.8 478,316.8 478.5,316.8 479,316.8 479.5,316.8 480,316.8 480.5,316.8 481,316.8 481.5,316.8 482,316.8 482.5,316.8 483,316.8 483.5,316.8 484,316.8 484.5,316.8 485,316.8 485.5,316.8 486,316.8 486.5,316.8 487,316.8 487.5,316.8 488,316.8 488.5,316.8 489,316.8 489.5,316.8 490,316.8 490.5,316.8 491,316.8 491.5,316.8 492,316.8 492.5,316.8 493,316.8 493.5,316.8 494,316.8 494.5,316.8 495,316.8 495.5,316.8 496,316.8 496.5,316.8 497,316.8 497.5,316.8 498,316.8 498.5,316.8 499,316.8 499.5,316.8 500,316.8 500.5,316.8 501,316.8 501.5,316.8 502,316.8 502.5,316.8 503,316.8 503.5,316.8 504,316.8 504.5,316.8 505,316.8 L505,316.8 Z" fill="#000" stroke="#000" stroke-width="0.5" stroke-linejoin="round"/>
<text x="305.8" y="201.9" font-size="9.6" font-family="Liberation Serif">Trolox + As<tspan baseline-shift="-2.69" font-size="6.91">2</tspan>O<tspan baseline-shift="-2.69" font-size="6.91">3</tspan></text>
<defs>
<pattern id="hd" width="1.9" height="1.9" patternUnits="userSpaceOnUse" patternTransform="rotate(45)"><rect width="1.9" height="1.9" fill="#b4b4b4"/><line x1="0.5" y1="0" x2="0.5" y2="1.9" stroke="#666" stroke-width="0.7"/></pattern>
<pattern id="hl" width="1.9" height="1.9" patternUnits="userSpaceOnUse" patternTransform="rotate(45)"><rect width="1.9" height="1.9" fill="#e6e6e6"/><line x1="0.5" y1="0" x2="0.5" y2="1.9" stroke="#999" stroke-width="0.6"/></pattern>
</defs>
<text x="-0.2" y="393.4" font-size="17" font-weight="bold">B</text>
<line x1="44.85" y1="492.7" x2="44.85" y2="493.5" stroke="#333" stroke-width="1"/>
<line x1="40.87" y1="492.7" x2="48.82" y2="492.7" stroke="#333" stroke-width="1"/>
<rect x="36.9" y="493.5" width="15.9" height="6" fill="#fff" stroke="#4a4a4a" stroke-width="1"/>
<line x1="68.55" y1="489.4" x2="68.55" y2="491.2" stroke="#333" stroke-width="1"/>
<line x1="64.53" y1="489.4" x2="72.57" y2="489.4" stroke="#333" stroke-width="1"/>
<rect x="60.5" y="491.2" width="16.1" height="8.3" fill="#fff" stroke="#4a4a4a" stroke-width="1"/>
<line x1="92.1" y1="483.5" x2="92.1" y2="484.2" stroke="#333" stroke-width="1"/>
<line x1="88.15" y1="483.5" x2="96.05" y2="483.5" stroke="#333" stroke-width="1"/>
<rect x="84.2" y="484.2" width="15.8" height="15.3" fill="#000" stroke="#4a4a4a" stroke-width="1"/>
<line x1="115.75" y1="461.9" x2="115.75" y2="464.2" stroke="#333" stroke-width="1"/>
<line x1="111.83" y1="461.9" x2="119.67" y2="461.9" stroke="#333" stroke-width="1"/>
<rect x="107.9" y="464.2" width="15.7" height="35.3" fill="#000" stroke="#4a4a4a" stroke-width="1"/>
<text x="115.75" y="463.32" font-size="9.5" font-weight="bold" text-anchor="middle">***</text>
<line x1="139.2" y1="465.8" x2="139.2" y2="469.2" stroke="#333" stroke-width="1"/>
<line x1="135.35" y1="465.8" x2="143.05" y2="465.8" stroke="#333" stroke-width="1"/>
<rect x="131.5" y="469.2" width="15.4" height="30.3" fill="#999" stroke="#4a4a4a" stroke-width="1"/>
<line x1="163.1" y1="419.2" x2="163.1" y2="422.9" stroke="#333" stroke-width="1"/>
<line x1="159.25" y1="419.2" x2="166.95" y2="419.2" stroke="#333" stroke-width="1"/>
<rect x="155.4" y="422.9" width="15.4" height="76.6" fill="#999" stroke="#4a4a4a" stroke-width="1"/>
<text x="163.1" y="420.62" font-size="9.5" font-weight="bold" text-anchor="middle">***</text>
<line x1="29" y1="400.2" x2="29" y2="499.5" stroke="#777" stroke-width="1.2"/>
<line x1="29" y1="499.5" x2="178.8" y2="499.5" stroke="#555" stroke-width="1.2"/>
<line x1="26.5" y1="499.5" x2="29" y2="499.5" stroke="#777" stroke-width="1"/>
<text x="26" y="502.16" font-size="7.4" text-anchor="end" fill="#333">0</text>
<line x1="26.5" y1="466.4" x2="29" y2="466.4" stroke="#777" stroke-width="1"/>
<text x="26" y="469.06" font-size="7.4" text-anchor="end" fill="#333">25</text>
<line x1="26.5" y1="433.3" x2="29" y2="433.3" stroke="#777" stroke-width="1"/>
<text x="26" y="435.96" font-size="7.4" text-anchor="end" fill="#333">50</text>
<line x1="26.5" y1="400.2" x2="29" y2="400.2" stroke="#777" stroke-width="1"/>
<text x="26" y="402.86" font-size="7.4" text-anchor="end" fill="#333">75</text>
<text transform="translate(47.85,507.5) rotate(-45)" font-size="10.4" text-anchor="end" stroke="#000" stroke-width="0.1">Control</text>
<text transform="translate(72,507.5) rotate(-45)" font-size="10.4" text-anchor="end" stroke="#000" stroke-width="0.1">Trolox</text>
<text transform="translate(96,507.5) rotate(-45)" font-size="10.4" text-anchor="end" stroke="#000" stroke-width="0.1">As<tspan baseline-shift="-2.91" font-size="7.49">2</tspan>O<tspan baseline-shift="-2.91" font-size="7.49">3</tspan> 0.5μM</text>
<text transform="translate(120.1,507.5) rotate(-45)" font-size="10.4" text-anchor="end" stroke="#000" stroke-width="0.1">T+ As<tspan baseline-shift="-2.91" font-size="7.49">2</tspan>O<tspan baseline-shift="-2.91" font-size="7.49">3</tspan> 0.5μM</text>
<text transform="translate(144,507.5) rotate(-45)" font-size="10.4" text-anchor="end" stroke="#000" stroke-width="0.1">As<tspan baseline-shift="-2.91" font-size="7.49">2</tspan>O<tspan baseline-shift="-2.91" font-size="7.49">3</tspan> 1μM</text>
<text transform="translate(168.35,507.5) rotate(-45)" font-size="10.4" text-anchor="end" stroke="#000" stroke-width="0.1">T+ As<tspan baseline-shift="-2.91" font-size="7.49">2</tspan>O<tspan baseline-shift="-2.91" font-size="7.49">3</tspan> 1μM</text>
<text x="30.8" y="407.8" font-size="9.5" font-weight="bold">NB4 cells</text>
<text transform="translate(11.8,448.7) scale(1.08,1) rotate(-90)" font-size="9.5" font-weight="bold" text-anchor="middle">sub G<tspan dy="2.6" font-size="6.5">0</tspan><tspan dy="-2.6"> cells(%)</tspan></text>
<line x1="213.85" y1="494" x2="213.85" y2="494.6" stroke="#333" stroke-width="1"/>
<line x1="210.02" y1="494" x2="217.68" y2="494" stroke="#333" stroke-width="1"/>
<rect x="206.2" y="494.6" width="15.3" height="3.7" fill="#fff" stroke="#4a4a4a" stroke-width="1"/>
<line x1="236.3" y1="494" x2="236.3" y2="494.6" stroke="#333" stroke-width="1"/>
<line x1="232.45" y1="494" x2="240.15" y2="494" stroke="#333" stroke-width="1"/>
<rect x="228.6" y="494.6" width="15.4" height="3.7" fill="#fff" stroke="#4a4a4a" stroke-width="1"/>
<line x1="258.8" y1="494" x2="258.8" y2="494.6" stroke="#333" stroke-width="1"/>
<line x1="254.8" y1="494" x2="262.8" y2="494" stroke="#333" stroke-width="1"/>
<rect x="250.8" y="494.6" width="16" height="3.7" fill="#fff" stroke="#4a4a4a" stroke-width="1"/>
<line x1="281.5" y1="480" x2="281.5" y2="481.7" stroke="#333" stroke-width="1"/>
<line x1="277.65" y1="480" x2="285.35" y2="480" stroke="#333" stroke-width="1"/>
<rect x="273.8" y="481.7" width="15.4" height="16.6" fill="url(#hd)" stroke="#4a4a4a" stroke-width="1"/>
<text x="281.5" y="481.43" font-size="9.5" font-weight="bold" text-anchor="middle">***</text>
<line x1="304" y1="476.5" x2="304" y2="477.4" stroke="#333" stroke-width="1"/>
<line x1="300.15" y1="476.5" x2="307.85" y2="476.5" stroke="#333" stroke-width="1"/>
<rect x="296.3" y="477.4" width="15.4" height="20.9" fill="#fff" stroke="#4a4a4a" stroke-width="1"/>
<line x1="326.75" y1="435" x2="326.75" y2="438.3" stroke="#333" stroke-width="1"/>
<line x1="322.88" y1="435" x2="330.62" y2="435" stroke="#333" stroke-width="1"/>
<rect x="319" y="438.3" width="15.5" height="60" fill="url(#hl)" stroke="#4a4a4a" stroke-width="1"/>
<text x="326.75" y="436.43" font-size="9.5" font-weight="bold" text-anchor="middle">***</text>
<line x1="199.1" y1="402.9" x2="199.1" y2="498.3" stroke="#777" stroke-width="1.2"/>
<line x1="199.1" y1="498.3" x2="342" y2="498.3" stroke="#555" stroke-width="1.2"/>
<line x1="196.6" y1="498.3" x2="199.1" y2="498.3" stroke="#777" stroke-width="1"/>
<text x="196.1" y="500.96" font-size="7.4" text-anchor="end" fill="#333">0</text>
<line x1="196.6" y1="466.5" x2="199.1" y2="466.5" stroke="#777" stroke-width="1"/>
<text x="196.1" y="469.16" font-size="7.4" text-anchor="end" fill="#333">25</text>
<line x1="196.6" y1="434.6" x2="199.1" y2="434.6" stroke="#777" stroke-width="1"/>
<text x="196.1" y="437.26" font-size="7.4" text-anchor="end" fill="#333">50</text>
<line x1="196.6" y1="402.9" x2="199.1" y2="402.9" stroke="#777" stroke-width="1"/>
<text x="196.1" y="405.56" font-size="7.4" text-anchor="end" fill="#333">75</text>
<text transform="translate(212.55,506.6) rotate(-45)" font-size="10.4" text-anchor="end" stroke="#000" stroke-width="0.1">Control</text>
<text transform="translate(236.45,506.6) rotate(-45)" font-size="10.4" text-anchor="end" stroke="#000" stroke-width="0.1">Trolox</text>
<text transform="translate(260.4,506.6) rotate(-45)" font-size="10.4" text-anchor="end" stroke="#000" stroke-width="0.1">As<tspan baseline-shift="-2.91" font-size="7.49">2</tspan>O<tspan baseline-shift="-2.91" font-size="7.49">3</tspan> 0.5μM</text>
<text transform="translate(284.55,506.6) rotate(-45)" font-size="10.4" text-anchor="end" stroke="#000" stroke-width="0.1">T+ As<tspan baseline-shift="-2.91" font-size="7.49">2</tspan>O<tspan baseline-shift="-2.91" font-size="7.49">3</tspan> 0.5μM</text>
<text transform="translate(308.5,506.6) rotate(-45)" font-size="10.4" text-anchor="end" stroke="#000" stroke-width="0.1">As<tspan baseline-shift="-2.91" font-size="7.49">2</tspan>O<tspan baseline-shift="-2.91" font-size="7.49">3</tspan> 1μM</text>
<text transform="translate(332.7,506.6) rotate(-45)" font-size="10.4" text-anchor="end" stroke="#000" stroke-width="0.1">T+ As<tspan baseline-shift="-2.91" font-size="7.49">2</tspan>O<tspan baseline-shift="-2.91" font-size="7.49">3</tspan> 1μM</text>
<text x="200.3" y="407.7" font-size="9.5" font-weight="bold">AsR<tspan baseline-shift="-2.66" font-size="6.84">2</tspan> cells</text>
<line x1="380.5" y1="491.8" x2="380.5" y2="492.3" stroke="#333" stroke-width="1"/>
<line x1="376.55" y1="491.8" x2="384.45" y2="491.8" stroke="#333" stroke-width="1"/>
<rect x="372.6" y="492.3" width="15.8" height="4.5" fill="#fff" stroke="#4a4a4a" stroke-width="1"/>
<line x1="403.15" y1="490.5" x2="403.15" y2="491.4" stroke="#333" stroke-width="1"/>
<line x1="399.32" y1="490.5" x2="406.97" y2="490.5" stroke="#333" stroke-width="1"/>
<rect x="395.5" y="491.4" width="15.3" height="5.4" fill="#fff" stroke="#4a4a4a" stroke-width="1"/>
<line x1="425.35" y1="486.4" x2="425.35" y2="487.4" stroke="#333" stroke-width="1"/>
<line x1="421.62" y1="486.4" x2="429.08" y2="486.4" stroke="#333" stroke-width="1"/>
<rect x="417.9" y="487.4" width="14.9" height="9.4" fill="#000" stroke="#4a4a4a" stroke-width="1"/>
<line x1="447.9" y1="471" x2="447.9" y2="474.5" stroke="#333" stroke-width="1"/>
<line x1="444.1" y1="471" x2="451.7" y2="471" stroke="#333" stroke-width="1"/>
<rect x="440.3" y="474.5" width="15.2" height="22.3" fill="#000" stroke="#4a4a4a" stroke-width="1"/>
<text x="447.9" y="472.43" font-size="9.5" font-weight="bold" text-anchor="middle">**</text>
<line x1="469.8" y1="466.2" x2="469.8" y2="470.1" stroke="#333" stroke-width="1"/>
<line x1="465.95" y1="466.2" x2="473.65" y2="466.2" stroke="#333" stroke-width="1"/>
<rect x="462.1" y="470.1" width="15.4" height="26.7" fill="#999" stroke="#4a4a4a" stroke-width="1"/>
<line x1="492.2" y1="418.8" x2="492.2" y2="429.2" stroke="#333" stroke-width="1"/>
<line x1="488.45" y1="418.8" x2="495.95" y2="418.8" stroke="#333" stroke-width="1"/>
<rect x="484.7" y="429.2" width="15" height="67.6" fill="#999" stroke="#4a4a4a" stroke-width="1"/>
<text x="492.2" y="420.23" font-size="9.5" font-weight="bold" text-anchor="middle">***</text>
<line x1="365.3" y1="402.6" x2="365.3" y2="496.8" stroke="#777" stroke-width="1.2"/>
<line x1="365.3" y1="496.8" x2="507.7" y2="496.8" stroke="#555" stroke-width="1.2"/>
<line x1="362.8" y1="496.8" x2="365.3" y2="496.8" stroke="#777" stroke-width="1"/>
<text x="362.3" y="499.46" font-size="7.4" text-anchor="end" fill="#333">0</text>
<line x1="362.8" y1="465.3" x2="365.3" y2="465.3" stroke="#777" stroke-width="1"/>
<text x="362.3" y="467.96" font-size="7.4" text-anchor="end" fill="#333">10</text>
<line x1="362.8" y1="433.9" x2="365.3" y2="433.9" stroke="#777" stroke-width="1"/>
<text x="362.3" y="436.56" font-size="7.4" text-anchor="end" fill="#333">20</text>
<line x1="362.8" y1="402.6" x2="365.3" y2="402.6" stroke="#777" stroke-width="1"/>
<text x="362.3" y="405.26" font-size="7.4" text-anchor="end" fill="#333">30</text>
<text transform="translate(378.5,505.1) rotate(-45)" font-size="10.4" text-anchor="end" stroke="#000" stroke-width="0.1">Control</text>
<text transform="translate(402.65,505.1) rotate(-45)" font-size="10.4" text-anchor="end" stroke="#000" stroke-width="0.1">Trolox</text>
<text transform="translate(426.35,505.1) rotate(-45)" font-size="10.4" text-anchor="end" stroke="#000" stroke-width="0.1">As<tspan baseline-shift="-2.91" font-size="7.49">2</tspan>O<tspan baseline-shift="-2.91" font-size="7.49">3</tspan> 0.5μM</text>
<text transform="translate(450.4,505.1) rotate(-45)" font-size="10.4" text-anchor="end" stroke="#000" stroke-width="0.1">T+ As<tspan baseline-shift="-2.91" font-size="7.49">2</tspan>O<tspan baseline-shift="-2.91" font-size="7.49">3</tspan> 0.5μM</text>
<text transform="translate(473.8,505.1) rotate(-45)" font-size="10.4" text-anchor="end" stroke="#000" stroke-width="0.1">As<tspan baseline-shift="-2.91" font-size="7.49">2</tspan>O<tspan baseline-shift="-2.91" font-size="7.49">3</tspan> 1μM</text>
<text transform="translate(497.7,505.1) rotate(-45)" font-size="10.4" text-anchor="end" stroke="#000" stroke-width="0.1">T+ As<tspan baseline-shift="-2.91" font-size="7.49">2</tspan>O<tspan baseline-shift="-2.91" font-size="7.49">3</tspan> 1μM</text>
<text x="366.9" y="407.8" font-size="9.5" font-weight="bold">IM9 cells</text>
<line x1="48.7" y1="657.1" x2="48.7" y2="659.7" stroke="#333" stroke-width="1"/>
<line x1="43.98" y1="657.1" x2="53.42" y2="657.1" stroke="#333" stroke-width="1"/>
<rect x="36.9" y="659.7" width="23.6" height="13.8" fill="#fff" stroke="#4a4a4a" stroke-width="1"/>
<line x1="83.4" y1="656.8" x2="83.4" y2="657.4" stroke="#333" stroke-width="1"/>
<line x1="78.56" y1="656.8" x2="88.24" y2="656.8" stroke="#333" stroke-width="1"/>
<rect x="71.3" y="657.4" width="24.2" height="16.1" fill="#fff" stroke="#4a4a4a" stroke-width="1"/>
<line x1="118.15" y1="642" x2="118.15" y2="642.7" stroke="#333" stroke-width="1"/>
<line x1="113.37" y1="642" x2="122.93" y2="642" stroke="#333" stroke-width="1"/>
<rect x="106.2" y="642.7" width="23.9" height="30.8" fill="#999" stroke="#4a4a4a" stroke-width="1"/>
<line x1="153.15" y1="581" x2="153.15" y2="583.5" stroke="#333" stroke-width="1"/>
<line x1="148.37" y1="581" x2="157.93" y2="581" stroke="#333" stroke-width="1"/>
<rect x="141.2" y="583.5" width="23.9" height="90" fill="#999" stroke="#4a4a4a" stroke-width="1"/>
<text x="153.15" y="582.42" font-size="9.5" font-weight="bold" text-anchor="middle">***</text>
<line x1="25.3" y1="572.6" x2="25.3" y2="673.5" stroke="#777" stroke-width="1.2"/>
<line x1="25.3" y1="673.5" x2="176.2" y2="673.5" stroke="#555" stroke-width="1.2"/>
<line x1="22.8" y1="673.5" x2="25.3" y2="673.5" stroke="#777" stroke-width="1"/>
<text x="22.3" y="676.24" font-size="7.6" text-anchor="end" fill="#333">0</text>
<line x1="22.8" y1="639.8" x2="25.3" y2="639.8" stroke="#777" stroke-width="1"/>
<text x="22.3" y="642.54" font-size="7.6" text-anchor="end" fill="#333">10</text>
<line x1="22.8" y1="606.2" x2="25.3" y2="606.2" stroke="#777" stroke-width="1"/>
<text x="22.3" y="608.94" font-size="7.6" text-anchor="end" fill="#333">20</text>
<line x1="22.8" y1="572.6" x2="25.3" y2="572.6" stroke="#777" stroke-width="1"/>
<text x="22.3" y="575.34" font-size="7.6" text-anchor="end" fill="#333">30</text>
<text transform="translate(52.4,681.5) rotate(-45)" font-size="10.9" text-anchor="end" stroke="#000" stroke-width="0.1">Control</text>
<text transform="translate(87.1,681.5) rotate(-45)" font-size="10.9" text-anchor="end" stroke="#000" stroke-width="0.1">Trolox</text>
<text transform="translate(121.85,681.5) rotate(-45)" font-size="10.9" text-anchor="end" stroke="#000" stroke-width="0.1">As<tspan baseline-shift="-3.05" font-size="7.85">2</tspan>O<tspan baseline-shift="-3.05" font-size="7.85">3</tspan> 1μM</text>
<text transform="translate(156.85,681.5) rotate(-45)" font-size="10.9" text-anchor="end" stroke="#000" stroke-width="0.1">T+As<tspan baseline-shift="-3.05" font-size="7.85">2</tspan>O<tspan baseline-shift="-3.05" font-size="7.85">3</tspan> 1μM</text>
<text x="27.8" y="580" font-size="9.5" font-weight="bold">NB4 cells</text>
<text transform="translate(9.4,621.8) rotate(-90)" font-size="9.65" font-weight="bold" text-anchor="middle">Annexin V pos. cells (%)</text>
<line x1="222.4" y1="649.9" x2="222.4" y2="653.2" stroke="#333" stroke-width="1"/>
<line x1="217.56" y1="649.9" x2="227.24" y2="649.9" stroke="#333" stroke-width="1"/>
<rect x="210.3" y="653.2" width="24.2" height="20.6" fill="#fff" stroke="#4a4a4a" stroke-width="1"/>
<line x1="257.55" y1="650.9" x2="257.55" y2="653.8" stroke="#333" stroke-width="1"/>
<line x1="252.65" y1="650.9" x2="262.45" y2="650.9" stroke="#333" stroke-width="1"/>
<rect x="245.3" y="653.8" width="24.5" height="20" fill="#fff" stroke="#4a4a4a" stroke-width="1"/>
<line x1="292.7" y1="634.5" x2="292.7" y2="636.8" stroke="#333" stroke-width="1"/>
<line x1="287.74" y1="634.5" x2="297.66" y2="634.5" stroke="#333" stroke-width="1"/>
<rect x="280.3" y="636.8" width="24.8" height="37" fill="#fff" stroke="#4a4a4a" stroke-width="1"/>
<line x1="327.85" y1="590" x2="327.85" y2="594.3" stroke="#333" stroke-width="1"/>
<line x1="322.95" y1="590" x2="332.75" y2="590" stroke="#333" stroke-width="1"/>
<rect x="315.6" y="594.3" width="24.5" height="79.5" fill="url(#hl)" stroke="#4a4a4a" stroke-width="1"/>
<text x="327.85" y="591.42" font-size="9.5" font-weight="bold" text-anchor="middle">***</text>
<line x1="198.5" y1="571.4" x2="198.5" y2="673.8" stroke="#777" stroke-width="1.2"/>
<line x1="198.5" y1="673.8" x2="345" y2="673.8" stroke="#555" stroke-width="1.2"/>
<line x1="196" y1="673.8" x2="198.5" y2="673.8" stroke="#777" stroke-width="1"/>
<text x="194.2" y="676.54" font-size="7.6" text-anchor="end" fill="#333">0</text>
<line x1="196" y1="639.9" x2="198.5" y2="639.9" stroke="#777" stroke-width="1"/>
<text x="194.2" y="642.64" font-size="7.6" text-anchor="end" fill="#333">10</text>
<line x1="196" y1="605.7" x2="198.5" y2="605.7" stroke="#777" stroke-width="1"/>
<text x="194.2" y="608.44" font-size="7.6" text-anchor="end" fill="#333">20</text>
<line x1="196" y1="571.4" x2="198.5" y2="571.4" stroke="#777" stroke-width="1"/>
<text x="194.2" y="574.14" font-size="7.6" text-anchor="end" fill="#333">30</text>
<text transform="translate(226.1,681.8) rotate(-45)" font-size="10.9" text-anchor="end" stroke="#000" stroke-width="0.1">Control</text>
<text transform="translate(261.25,681.8) rotate(-45)" font-size="10.9" text-anchor="end" stroke="#000" stroke-width="0.1">Trolox</text>
<text transform="translate(296.4,681.8) rotate(-45)" font-size="10.9" text-anchor="end" stroke="#000" stroke-width="0.1">As<tspan baseline-shift="-3.05" font-size="7.85">2</tspan>O<tspan baseline-shift="-3.05" font-size="7.85">3</tspan> 1μM</text>
<text transform="translate(331.55,681.8) rotate(-45)" font-size="10.9" text-anchor="end" stroke="#000" stroke-width="0.1">T+As<tspan baseline-shift="-3.05" font-size="7.85">2</tspan>O<tspan baseline-shift="-3.05" font-size="7.85">3</tspan> 1μM</text>
<text x="200.5" y="580" font-size="9.5" font-weight="bold">AsR<tspan baseline-shift="-2.66" font-size="6.84">2</tspan> cells</text>
<line x1="389.75" y1="654.8" x2="389.75" y2="655.8" stroke="#333" stroke-width="1"/>
<line x1="384.97" y1="654.8" x2="394.53" y2="654.8" stroke="#333" stroke-width="1"/>
<rect x="377.8" y="655.8" width="23.9" height="17.6" fill="#fff" stroke="#4a4a4a" stroke-width="1"/>
<line x1="424.7" y1="652.5" x2="424.7" y2="655.8" stroke="#333" stroke-width="1"/>
<line x1="419.94" y1="652.5" x2="429.46" y2="652.5" stroke="#333" stroke-width="1"/>
<rect x="412.8" y="655.8" width="23.8" height="17.6" fill="#fff" stroke="#4a4a4a" stroke-width="1"/>
<line x1="459.85" y1="627" x2="459.85" y2="632.6" stroke="#333" stroke-width="1"/>
<line x1="455.15" y1="627" x2="464.55" y2="627" stroke="#333" stroke-width="1"/>
<rect x="448.1" y="632.6" width="23.5" height="40.8" fill="#999" stroke="#4a4a4a" stroke-width="1"/>
<line x1="494.95" y1="588.8" x2="494.95" y2="593.3" stroke="#333" stroke-width="1"/>
<line x1="490.17" y1="588.8" x2="499.73" y2="588.8" stroke="#333" stroke-width="1"/>
<rect x="483" y="593.3" width="23.9" height="80.1" fill="#999" stroke="#4a4a4a" stroke-width="1"/>
<text x="494.95" y="590.22" font-size="9.5" font-weight="bold" text-anchor="middle">***</text>
<line x1="366.3" y1="572.3" x2="366.3" y2="673.4" stroke="#777" stroke-width="1.2"/>
<line x1="366.3" y1="673.4" x2="518.5" y2="673.4" stroke="#555" stroke-width="1.2"/>
<line x1="363.8" y1="673.4" x2="366.3" y2="673.4" stroke="#777" stroke-width="1"/>
<text x="362" y="676.14" font-size="7.6" text-anchor="end" fill="#333">0</text>
<line x1="363.8" y1="622.8" x2="366.3" y2="622.8" stroke="#777" stroke-width="1"/>
<text x="362" y="625.54" font-size="7.6" text-anchor="end" fill="#333">10</text>
<line x1="363.8" y1="572.3" x2="366.3" y2="572.3" stroke="#777" stroke-width="1"/>
<text x="362" y="575.04" font-size="7.6" text-anchor="end" fill="#333">20</text>
<text transform="translate(393.45,681.4) rotate(-45)" font-size="10.9" text-anchor="end" stroke="#000" stroke-width="0.1">Control</text>
<text transform="translate(428.4,681.4) rotate(-45)" font-size="10.9" text-anchor="end" stroke="#000" stroke-width="0.1">Trolox</text>
<text transform="translate(463.55,681.4) rotate(-45)" font-size="10.9" text-anchor="end" stroke="#000" stroke-width="0.1">As<tspan baseline-shift="-3.05" font-size="7.85">2</tspan>O<tspan baseline-shift="-3.05" font-size="7.85">3</tspan> 1μM</text>
<text transform="translate(498.65,681.4) rotate(-45)" font-size="10.9" text-anchor="end" stroke="#000" stroke-width="0.1">T+As<tspan baseline-shift="-3.05" font-size="7.85">2</tspan>O<tspan baseline-shift="-3.05" font-size="7.85">3</tspan> 1μM</text>
<text x="367.5" y="580" font-size="9.5" font-weight="bold">IM9 cells</text>
<text x="0.2" y="746.5" font-size="17.2" font-weight="bold">C</text>
<line x1="43.15" y1="863.2" x2="43.15" y2="863.7" stroke="#333" stroke-width="1"/>
<line x1="38.47" y1="863.2" x2="47.83" y2="863.2" stroke="#333" stroke-width="1"/>
<rect x="33.8" y="863.7" width="18.7" height="5.1" fill="#fff" stroke="#4a4a4a" stroke-width="1"/>
<line x1="70.3" y1="862.5" x2="70.3" y2="863.3" stroke="#333" stroke-width="1"/>
<line x1="65.8" y1="862.5" x2="74.8" y2="862.5" stroke="#333" stroke-width="1"/>
<rect x="61.3" y="863.3" width="18" height="5.5" fill="#fff" stroke="#4a4a4a" stroke-width="1"/>
<line x1="97.75" y1="857.5" x2="97.75" y2="858" stroke="#333" stroke-width="1"/>
<line x1="93.17" y1="857.5" x2="102.33" y2="857.5" stroke="#333" stroke-width="1"/>
<rect x="88.6" y="858" width="18.3" height="10.8" fill="#000" stroke="#4a4a4a" stroke-width="1"/>
<line x1="125.1" y1="845.5" x2="125.1" y2="846.2" stroke="#333" stroke-width="1"/>
<line x1="120.45" y1="845.5" x2="129.75" y2="845.5" stroke="#333" stroke-width="1"/>
<rect x="115.8" y="846.2" width="18.6" height="22.6" fill="#000" stroke="#4a4a4a" stroke-width="1"/>
<text x="125.1" y="845.92" font-size="9.5" font-weight="bold" text-anchor="middle">***</text>
<line x1="152.45" y1="837.2" x2="152.45" y2="838.1" stroke="#333" stroke-width="1"/>
<line x1="147.88" y1="837.2" x2="157.02" y2="837.2" stroke="#333" stroke-width="1"/>
<rect x="143.3" y="838.1" width="18.3" height="30.7" fill="#c8c8c8" stroke="#4a4a4a" stroke-width="1"/>
<line x1="179.85" y1="788.3" x2="179.85" y2="790.2" stroke="#333" stroke-width="1"/>
<line x1="175.27" y1="788.3" x2="184.43" y2="788.3" stroke="#333" stroke-width="1"/>
<rect x="170.7" y="790.2" width="18.3" height="78.6" fill="#c8c8c8" stroke="#4a4a4a" stroke-width="1"/>
<text x="179.85" y="788.72" font-size="9.5" font-weight="bold" text-anchor="middle">***</text>
<line x1="24.9" y1="753.6" x2="24.9" y2="868.8" stroke="#777" stroke-width="1.2"/>
<line x1="24.9" y1="868.8" x2="198.5" y2="868.8" stroke="#444" stroke-width="1.2"/>
<line x1="21.9" y1="868.8" x2="24.9" y2="868.8" stroke="#777" stroke-width="1"/>
<text x="20.4" y="871.03" font-size="6.2" text-anchor="end" fill="#555">0</text>
<line x1="21.9" y1="830.8" x2="24.9" y2="830.8" stroke="#777" stroke-width="1"/>
<text x="20.4" y="833.03" font-size="6.2" text-anchor="end" fill="#555">25</text>
<line x1="21.9" y1="791.8" x2="24.9" y2="791.8" stroke="#777" stroke-width="1"/>
<text x="20.4" y="794.03" font-size="6.2" text-anchor="end" fill="#555">50</text>
<line x1="21.9" y1="753.6" x2="24.9" y2="753.6" stroke="#777" stroke-width="1"/>
<text x="20.4" y="755.83" font-size="6.2" text-anchor="end" fill="#555">75</text>
<text transform="translate(45.15,875.5) rotate(-45)" font-size="9.2" text-anchor="end" stroke="#000" stroke-width="0.1">Control</text>
<text transform="translate(72.3,875.5) rotate(-45)" font-size="9.2" text-anchor="end" stroke="#000" stroke-width="0.1">Trolox</text>
<text transform="translate(99.75,875.5) rotate(-45)" font-size="9.2" text-anchor="end" stroke="#000" stroke-width="0.1">As<tspan baseline-shift="-2.58" font-size="6.62">2</tspan>O<tspan baseline-shift="-2.58" font-size="6.62">3</tspan> 0.5μM</text>
<text transform="translate(127.1,875.5) rotate(-45)" font-size="9.2" text-anchor="end" stroke="#000" stroke-width="0.1">T+ As<tspan baseline-shift="-2.58" font-size="6.62">2</tspan>O<tspan baseline-shift="-2.58" font-size="6.62">3</tspan> 0.5μM</text>
<text transform="translate(154.45,875.5) rotate(-45)" font-size="9.2" text-anchor="end" stroke="#000" stroke-width="0.1">As<tspan baseline-shift="-2.58" font-size="6.62">2</tspan>O<tspan baseline-shift="-2.58" font-size="6.62">3</tspan> 1μM</text>
<text transform="translate(181.85,875.5) rotate(-45)" font-size="9.2" text-anchor="end" stroke="#000" stroke-width="0.1">T+ As<tspan baseline-shift="-2.58" font-size="6.62">2</tspan>O<tspan baseline-shift="-2.58" font-size="6.62">3</tspan> 1μM</text>
<text transform="translate(7.2,807.8) rotate(-90)" font-size="9.7" font-weight="bold" text-anchor="middle">Caspase 3 activation</text>
<text x="219.8" y="746.5" font-size="17.3" font-weight="bold">D</text>
<line x1="234.7" y1="767.7" x2="238.3" y2="767.7" stroke="#222" stroke-width="1.3"/>
<text x="257.8" y="772.2" font-size="11" text-anchor="middle" stroke="#000" stroke-width="0.35">+</text>
<line x1="277" y1="767.7" x2="280.6" y2="767.7" stroke="#222" stroke-width="1.3"/>
<text x="299.8" y="772.2" font-size="11" text-anchor="middle" stroke="#000" stroke-width="0.35">+</text>
<line x1="319.4" y1="767.7" x2="323" y2="767.7" stroke="#222" stroke-width="1.3"/>
<text x="342.2" y="772.2" font-size="11" text-anchor="middle" stroke="#000" stroke-width="0.35">+</text>
<line x1="234.7" y1="781.6" x2="238.3" y2="781.6" stroke="#222" stroke-width="1.3"/>
<line x1="256" y1="781.6" x2="259.6" y2="781.6" stroke="#222" stroke-width="1.3"/>
<text x="278.8" y="785.6" font-size="10.2" text-anchor="middle">0.5</text>
<text x="299.8" y="785.6" font-size="10.2" text-anchor="middle">0.5</text>
<text x="321.2" y="785.6" font-size="10.2" text-anchor="middle">1</text>
<text x="342.2" y="785.6" font-size="10.2" text-anchor="middle">1</text>
<text x="355" y="769.6" font-size="7.1" font-weight="bold">Trolox(100μM)</text>
<text x="355" y="782.7" font-size="7.1" font-weight="bold">As<tspan dy="1.6" font-size="5">2</tspan><tspan dy="-1.6">O</tspan><tspan dy="1.6" font-size="5">3</tspan><tspan dy="-1.6"> (μM)</tspan></text>
<filter id="bl" x="-20%" y="-80%" width="140%" height="260%"><feGaussianBlur stdDeviation="0.55"/></filter>
<rect x="222.2" y="794.6" width="134.8" height="21.6" fill="#fafafa" stroke="#222" stroke-width="1.3"/>
<rect x="222.2" y="820.8" width="134.8" height="21.2" fill="#fafafa" stroke="#222" stroke-width="1.3"/>
<rect x="222.2" y="846.6" width="134.8" height="21.4" fill="#fafafa" stroke="#222" stroke-width="1.3"/>
<rect x="227.5" y="803.5" width="19" height="4.8" rx="2.4" fill="#111" fill-opacity="1" filter="url(#bl)"/>
<rect x="248.8" y="803.65" width="18.7" height="4.5" rx="2.25" fill="#1a1a1a" fill-opacity="1" filter="url(#bl)"/>
<rect x="270.3" y="803.65" width="18.8" height="4.5" rx="2.25" fill="#181818" fill-opacity="1" filter="url(#bl)"/>
<rect x="291.9" y="803.8" width="18.5" height="4.2" rx="2.1" fill="#222" fill-opacity="1" filter="url(#bl)"/>
<rect x="313.5" y="804.2" width="17.7" height="3.4" rx="1.7" fill="#555" fill-opacity="1" filter="url(#bl)"/>
<rect x="335" y="804.6" width="16.2" height="2.6" rx="1.3" fill="#aaa" fill-opacity="1" filter="url(#bl)"/>
<rect x="273.4" y="830.9" width="13.1" height="2.6" rx="1.3" fill="#111" fill-opacity="1" filter="url(#bl)"/>
<rect x="294.2" y="830.4" width="15.4" height="3.6" rx="1.8" fill="#0a0a0a" fill-opacity="1" filter="url(#bl)"/>
<rect x="315" y="829.9" width="16.2" height="4.6" rx="2.3" fill="#050505" fill-opacity="1" filter="url(#bl)"/>
<rect x="336.5" y="829.3" width="16.2" height="5.8" rx="2.9" fill="#000" fill-opacity="1" filter="url(#bl)"/>
<rect x="226.5" y="855.1" width="18.9" height="6.6" rx="3.3" fill="#2a2a2a" fill-opacity="1" filter="url(#bl)"/>
<rect x="246.9" y="855.1" width="20" height="6.6" rx="3.3" fill="#2a2a2a" fill-opacity="1" filter="url(#bl)"/>
<rect x="268.5" y="855.1" width="19.5" height="6.6" rx="3.3" fill="#2a2a2a" fill-opacity="1" filter="url(#bl)"/>
<rect x="289.2" y="855.1" width="20.3" height="6.6" rx="3.3" fill="#2a2a2a" fill-opacity="1" filter="url(#bl)"/>
<rect x="310.4" y="855.1" width="20" height="6.6" rx="3.3" fill="#2a2a2a" fill-opacity="1" filter="url(#bl)"/>
<rect x="331.9" y="855.1" width="20" height="6.6" rx="3.3" fill="#2a2a2a" fill-opacity="1" filter="url(#bl)"/>
<text x="358.8" y="810.3" font-size="11.15">PARP (116kDa, full length)</text>
<text x="358.8" y="835.8" font-size="11.1">PARP (24kDa, cleaved fragment)</text>
<text x="358.8" y="860.2" font-size="11.1">β-actin</text>
<text x="-0.3" y="944.2" font-size="17.1" font-weight="bold">E</text>
<line x1="37.5" y1="1031" x2="37.5" y2="1032.3" stroke="#333" stroke-width="1"/>
<line x1="33.27" y1="1031" x2="41.73" y2="1031" stroke="#333" stroke-width="1"/>
<rect x="29.8" y="1032.3" width="15.4" height="11.3" fill="#fff" stroke="#4a4a4a" stroke-width="1"/>
<line x1="59.4" y1="1028.5" x2="59.4" y2="1032.3" stroke="#333" stroke-width="1"/>
<line x1="55.28" y1="1028.5" x2="63.53" y2="1028.5" stroke="#333" stroke-width="1"/>
<rect x="51.9" y="1032.3" width="15" height="11.3" fill="#fff" stroke="#4a4a4a" stroke-width="1"/>
<line x1="81.55" y1="995.4" x2="81.55" y2="998.8" stroke="#333" stroke-width="1"/>
<line x1="77.56" y1="995.4" x2="85.54" y2="995.4" stroke="#333" stroke-width="1"/>
<rect x="74.3" y="998.8" width="14.5" height="44.8" fill="#000" stroke="#4a4a4a" stroke-width="1"/>
<line x1="103.3" y1="991.2" x2="103.3" y2="998.8" stroke="#333" stroke-width="1"/>
<line x1="99.17" y1="991.2" x2="107.42" y2="991.2" stroke="#333" stroke-width="1"/>
<rect x="95.8" y="998.8" width="15" height="44.8" fill="#000" stroke="#4a4a4a" stroke-width="1"/>
<line x1="125.2" y1="968.4" x2="125.2" y2="971.6" stroke="#333" stroke-width="1"/>
<line x1="121.07" y1="968.4" x2="129.32" y2="968.4" stroke="#333" stroke-width="1"/>
<rect x="117.7" y="971.6" width="15" height="72" fill="#999" stroke="#4a4a4a" stroke-width="1"/>
<line x1="147.1" y1="961.5" x2="147.1" y2="970.5" stroke="#333" stroke-width="1"/>
<line x1="142.97" y1="961.5" x2="151.22" y2="961.5" stroke="#333" stroke-width="1"/>
<rect x="139.6" y="970.5" width="15" height="73.1" fill="#999" stroke="#4a4a4a" stroke-width="1"/>
<line x1="23.3" y1="951.4" x2="23.3" y2="1043.6" stroke="#666" stroke-width="1.2"/>
<line x1="23.3" y1="1043.6" x2="162.3" y2="1043.6" stroke="#444" stroke-width="1.2"/>
<line x1="20.3" y1="1043.6" x2="23.3" y2="1043.6" stroke="#666" stroke-width="1"/>
<text x="18.8" y="1046.01" font-size="6.7" text-anchor="end" fill="#555">0</text>
<line x1="20.3" y1="1012.8" x2="23.3" y2="1012.8" stroke="#666" stroke-width="1"/>
<text x="18.8" y="1015.21" font-size="6.7" text-anchor="end" fill="#555">10</text>
<line x1="20.3" y1="982.3" x2="23.3" y2="982.3" stroke="#666" stroke-width="1"/>
<text x="18.8" y="984.71" font-size="6.7" text-anchor="end" fill="#555">20</text>
<line x1="20.3" y1="951.4" x2="23.3" y2="951.4" stroke="#666" stroke-width="1"/>
<text x="18.8" y="953.81" font-size="6.7" text-anchor="end" fill="#555">30</text>
<text transform="translate(37.8,1052) rotate(-45)" font-size="6.4" text-anchor="end" stroke="#000" stroke-width="0.1">Control</text>
<text transform="translate(59.7,1052) rotate(-45)" font-size="6.4" text-anchor="end" stroke="#000" stroke-width="0.1">Trolox</text>
<text transform="translate(81.85,1052) rotate(-45)" font-size="6.4" text-anchor="end" stroke="#000" stroke-width="0.1">Dox 3ng/ml</text>
<text transform="translate(103.6,1052) rotate(-45)" font-size="6.4" text-anchor="end" stroke="#000" stroke-width="0.1">T+ Dox 3ng/ml</text>
<text transform="translate(125.5,1052) rotate(-45)" font-size="6.4" text-anchor="end" stroke="#000" stroke-width="0.1">Dox 5ng/ml</text>
<text transform="translate(147.4,1052) rotate(-45)" font-size="6.4" text-anchor="end" stroke="#000" stroke-width="0.1">T + Dox 5ng/ml</text>
<text transform="translate(7.0,994.3) rotate(-90)" font-size="7.6" font-weight="bold" text-anchor="middle">sub G<tspan dy="1.2" font-size="6">0</tspan><tspan dy="-1.2"> cells (%)</tspan></text>
<line x1="221.65" y1="1041.5" x2="221.65" y2="1042" stroke="#333" stroke-width="1"/>
<line x1="217.61" y1="1041.5" x2="225.69" y2="1041.5" stroke="#333" stroke-width="1"/>
<rect x="214.3" y="1042" width="14.7" height="1.4" fill="#ddd" stroke="#4a4a4a" stroke-width="1"/>
<line x1="243.75" y1="1041.8" x2="243.75" y2="1042" stroke="#333" stroke-width="1"/>
<line x1="239.6" y1="1041.8" x2="247.9" y2="1041.8" stroke="#333" stroke-width="1"/>
<rect x="236.2" y="1042" width="15.1" height="1.4" fill="#ddd" stroke="#4a4a4a" stroke-width="1"/>
<line x1="265.85" y1="1015.3" x2="265.85" y2="1015.8" stroke="#333" stroke-width="1"/>
<line x1="261.81" y1="1015.3" x2="269.89" y2="1015.3" stroke="#333" stroke-width="1"/>
<rect x="258.5" y="1015.8" width="14.7" height="27.6" fill="#000" stroke="#4a4a4a" stroke-width="1"/>
<line x1="287.05" y1="1010.3" x2="287.05" y2="1013.6" stroke="#333" stroke-width="1"/>
<line x1="283.01" y1="1010.3" x2="291.09" y2="1010.3" stroke="#333" stroke-width="1"/>
<rect x="279.7" y="1013.6" width="14.7" height="29.8" fill="#000" stroke="#4a4a4a" stroke-width="1"/>
<line x1="309.1" y1="972.6" x2="309.1" y2="975" stroke="#333" stroke-width="1"/>
<line x1="304.98" y1="972.6" x2="313.23" y2="972.6" stroke="#333" stroke-width="1"/>
<rect x="301.6" y="975" width="15" height="68.4" fill="#999" stroke="#4a4a4a" stroke-width="1"/>
<line x1="331.15" y1="971" x2="331.15" y2="972.7" stroke="#333" stroke-width="1"/>
<line x1="327.11" y1="971" x2="335.19" y2="971" stroke="#333" stroke-width="1"/>
<rect x="323.8" y="972.7" width="14.7" height="70.7" fill="#999" stroke="#4a4a4a" stroke-width="1"/>
<line x1="207.3" y1="951.7" x2="207.3" y2="1043.4" stroke="#666" stroke-width="1.2"/>
<line x1="207.3" y1="1043.4" x2="345.8" y2="1043.4" stroke="#444" stroke-width="1.2"/>
<line x1="204.3" y1="1043.4" x2="207.3" y2="1043.4" stroke="#666" stroke-width="1"/>
<text x="202.8" y="1045.74" font-size="6.5" text-anchor="end" fill="#555">0</text>
<line x1="204.3" y1="1020.5" x2="207.3" y2="1020.5" stroke="#666" stroke-width="1"/>
<text x="202.8" y="1022.84" font-size="6.5" text-anchor="end" fill="#555">25</text>
<line x1="204.3" y1="997.6" x2="207.3" y2="997.6" stroke="#666" stroke-width="1"/>
<text x="202.8" y="999.94" font-size="6.5" text-anchor="end" fill="#555">50</text>
<line x1="204.3" y1="974.6" x2="207.3" y2="974.6" stroke="#666" stroke-width="1"/>
<text x="202.8" y="976.94" font-size="6.5" text-anchor="end" fill="#555">75</text>
<line x1="204.3" y1="951.7" x2="207.3" y2="951.7" stroke="#666" stroke-width="1"/>
<text x="202.8" y="954.04" font-size="6.5" text-anchor="end" fill="#555">100</text>
<text transform="translate(221.95,1051.8) rotate(-45)" font-size="6.4" text-anchor="end" stroke="#000" stroke-width="0.1">Control</text>
<text transform="translate(244.05,1051.8) rotate(-45)" font-size="6.4" text-anchor="end" stroke="#000" stroke-width="0.1">Trolox</text>
<text transform="translate(266.15,1051.8) rotate(-45)" font-size="6.4" text-anchor="end" stroke="#000" stroke-width="0.1">AraC 500nM</text>
<text transform="translate(287.35,1051.8) rotate(-45)" font-size="6.4" text-anchor="end" stroke="#000" stroke-width="0.1">T + AraC 500nM</text>
<text transform="translate(309.4,1051.8) rotate(-45)" font-size="6.4" text-anchor="end" stroke="#000" stroke-width="0.1">AraC 1μM</text>
<text transform="translate(331.45,1051.8) rotate(-45)" font-size="6.4" text-anchor="end" stroke="#000" stroke-width="0.1">T + AraC 1μM</text>
<text transform="translate(191.5,994.8) rotate(-90)" font-size="7.6" font-weight="bold" text-anchor="middle">subG<tspan dy="1.2" font-size="6">0</tspan><tspan dy="-1.2"> cells (%)</tspan></text>
<line x1="400.7" y1="1037" x2="400.7" y2="1037.4" stroke="#333" stroke-width="1"/>
<line x1="396.74" y1="1037" x2="404.66" y2="1037" stroke="#333" stroke-width="1"/>
<rect x="393.5" y="1037.4" width="14.4" height="6" fill="#fff" stroke="#4a4a4a" stroke-width="1"/>
<line x1="420.75" y1="1035.8" x2="420.75" y2="1036.4" stroke="#333" stroke-width="1"/>
<line x1="416.87" y1="1035.8" x2="424.63" y2="1035.8" stroke="#333" stroke-width="1"/>
<rect x="413.7" y="1036.4" width="14.1" height="7" fill="#fff" stroke="#4a4a4a" stroke-width="1"/>
<line x1="442" y1="1003.1" x2="442" y2="1005.4" stroke="#333" stroke-width="1"/>
<line x1="438.15" y1="1003.1" x2="445.85" y2="1003.1" stroke="#333" stroke-width="1"/>
<rect x="435" y="1005.4" width="14" height="38" fill="#000" stroke="#4a4a4a" stroke-width="1"/>
<line x1="462.6" y1="1000.5" x2="462.6" y2="1003.1" stroke="#333" stroke-width="1"/>
<line x1="458.75" y1="1000.5" x2="466.45" y2="1000.5" stroke="#333" stroke-width="1"/>
<rect x="455.6" y="1003.1" width="14" height="40.3" fill="#000" stroke="#4a4a4a" stroke-width="1"/>
<line x1="483.55" y1="964.5" x2="483.55" y2="970.1" stroke="#333" stroke-width="1"/>
<line x1="479.67" y1="964.5" x2="487.43" y2="964.5" stroke="#333" stroke-width="1"/>
<rect x="476.5" y="970.1" width="14.1" height="73.3" fill="#999" stroke="#4a4a4a" stroke-width="1"/>
<line x1="504.8" y1="966.2" x2="504.8" y2="969.4" stroke="#333" stroke-width="1"/>
<line x1="500.95" y1="966.2" x2="508.65" y2="966.2" stroke="#333" stroke-width="1"/>
<rect x="497.8" y="969.4" width="14" height="74" fill="#999" stroke="#4a4a4a" stroke-width="1"/>
<line x1="386.1" y1="955.2" x2="386.1" y2="1043.4" stroke="#666" stroke-width="1.2"/>
<line x1="386.1" y1="1043.4" x2="518.4" y2="1043.4" stroke="#444" stroke-width="1.2"/>
<line x1="383.1" y1="1043.4" x2="386.1" y2="1043.4" stroke="#666" stroke-width="1"/>
<text x="381.6" y="1045.81" font-size="6.7" text-anchor="end" fill="#555">0</text>
<line x1="383.1" y1="1025.8" x2="386.1" y2="1025.8" stroke="#666" stroke-width="1"/>
<text x="381.6" y="1028.21" font-size="6.7" text-anchor="end" fill="#555">10</text>
<line x1="383.1" y1="1008.4" x2="386.1" y2="1008.4" stroke="#666" stroke-width="1"/>
<text x="381.6" y="1010.81" font-size="6.7" text-anchor="end" fill="#555">20</text>
<line x1="383.1" y1="990.9" x2="386.1" y2="990.9" stroke="#666" stroke-width="1"/>
<text x="381.6" y="993.31" font-size="6.7" text-anchor="end" fill="#555">30</text>
<line x1="383.1" y1="973.2" x2="386.1" y2="973.2" stroke="#666" stroke-width="1"/>
<text x="381.6" y="975.61" font-size="6.7" text-anchor="end" fill="#555">40</text>
<line x1="383.1" y1="955.2" x2="386.1" y2="955.2" stroke="#666" stroke-width="1"/>
<text x="381.6" y="957.61" font-size="6.7" text-anchor="end" fill="#555">50</text>
<text transform="translate(401,1051.8) rotate(-45)" font-size="6.4" text-anchor="end" stroke="#000" stroke-width="0.1">Control</text>
<text transform="translate(421.05,1051.8) rotate(-45)" font-size="6.4" text-anchor="end" stroke="#000" stroke-width="0.1">Trolox</text>
<text transform="translate(442.3,1051.8) rotate(-45)" font-size="6.4" text-anchor="end" stroke="#000" stroke-width="0.1">Eto 0.2μM</text>
<text transform="translate(462.9,1051.8) rotate(-45)" font-size="6.4" text-anchor="end" stroke="#000" stroke-width="0.1">T + Eto 0.2μM</text>
<text transform="translate(483.85,1051.8) rotate(-45)" font-size="6.4" text-anchor="end" stroke="#000" stroke-width="0.1">Eto 0.5μM</text>
<text transform="translate(505.1,1051.8) rotate(-45)" font-size="6.4" text-anchor="end" stroke="#000" stroke-width="0.1">T + Eto 0.5μM</text>
<text transform="translate(372.2,997.6) rotate(-90)" font-size="7.5" font-weight="bold" text-anchor="middle">subG<tspan dy="1.2" font-size="6">0</tspan><tspan dy="-1.2"> cells (%)</tspan></text>
</g>
</svg>
</body></html>
